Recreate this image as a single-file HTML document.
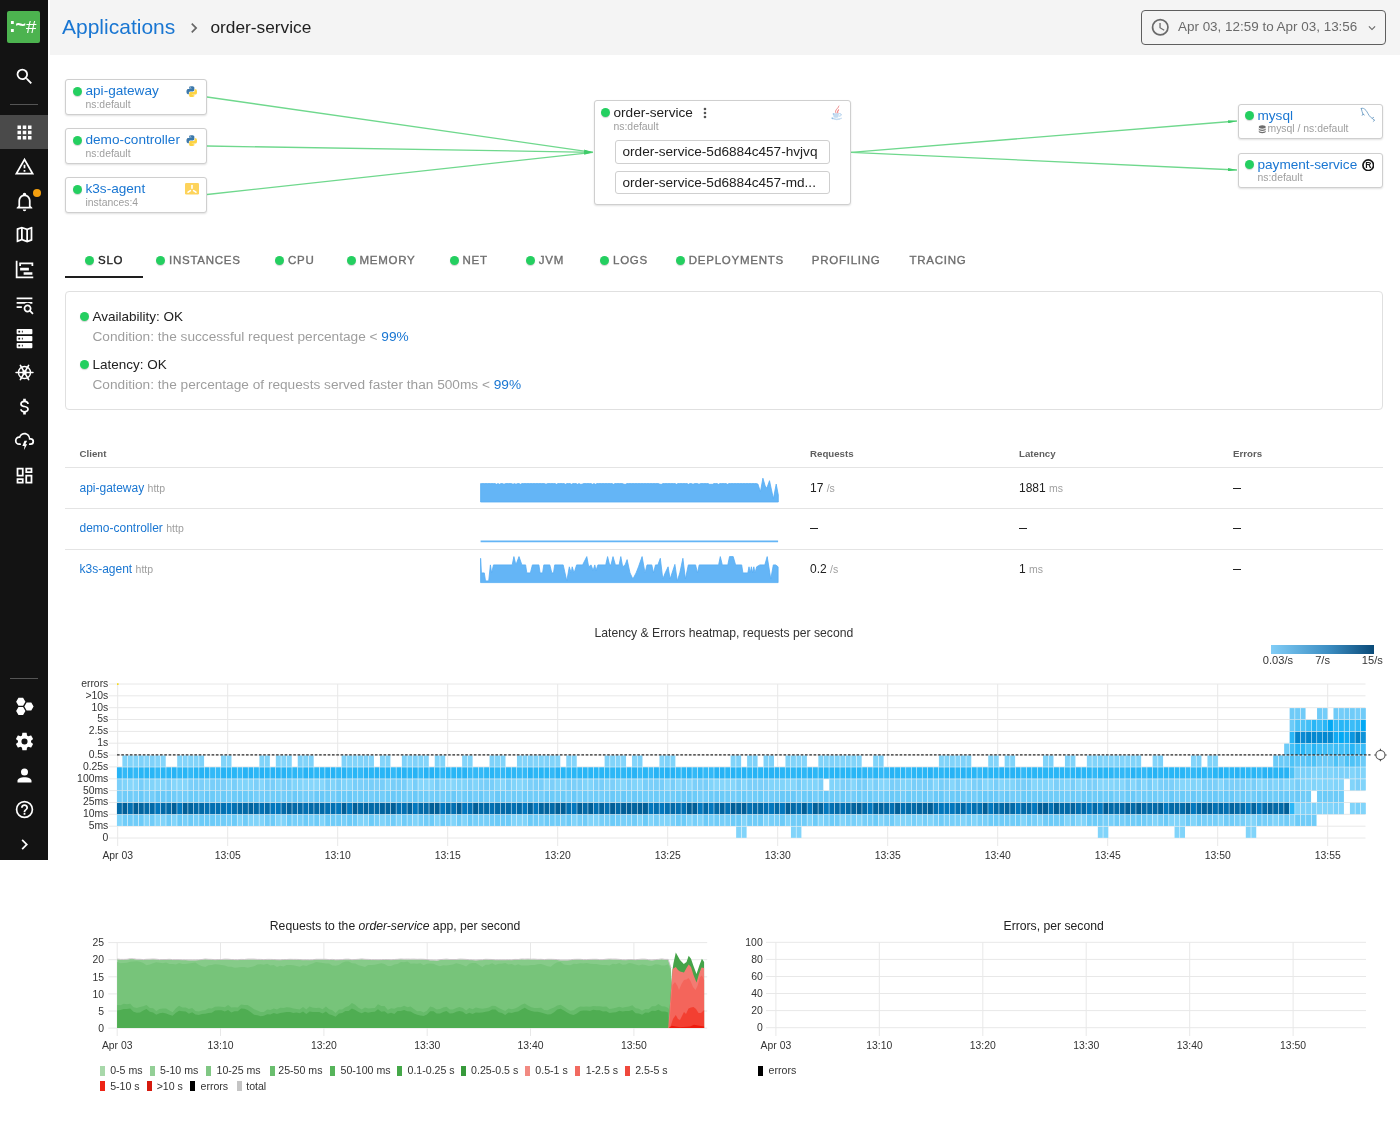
<!DOCTYPE html><html><head><meta charset="utf-8"><title>order-service</title><style>
*{margin:0;padding:0;box-sizing:border-box}
html,body{width:1400px;height:1128px;overflow:hidden;background:#fff}
body{position:relative;font-family:"Liberation Sans",Arial,sans-serif;color:#212121}
#wrap{position:absolute;left:0;top:0;width:1400px;height:1128px;will-change:transform;background:#fff}
.a{position:absolute;white-space:nowrap}
.ic{position:absolute;display:block}
#sb{position:absolute;left:0;top:0;width:48px;height:860px;background:#131313}
#hdr{position:absolute;left:50px;top:0;width:1350px;height:55px;background:#f4f4f4}
.node{position:absolute;background:#fff;border:1px solid #cfcfcf;border-radius:3px;box-shadow:0 1px 2px rgba(0,0,0,.12)}
.dot{position:absolute;width:9px;height:9px;border-radius:50%;background:#24cf60;box-shadow:0 1px 1px rgba(0,0,0,.18)}
.lnk{color:#1976d2}
.nm{font-size:13.6px;line-height:1}
.ns{font-size:10.4px;color:#9e9e9e;line-height:1}
.tab{font-size:11.5px;font-weight:400;letter-spacing:.75px;color:#666;line-height:1;-webkit-text-stroke:.35px currentColor}
.slo{font-size:13.5px;line-height:1}
.cond{color:#9e9e9e;font-size:13.66px}
.th{font-size:9.7px;font-weight:700;color:#5f5f5f;line-height:1}
.td{font-size:12px;line-height:1}
.dash{font-size:14.4px;margin-top:-2.2px}
.unit{font-size:10.5px;color:#9e9e9e}
.hl{position:absolute;height:1px;background:#e4e4e4}
.ax{font-size:10.4px;fill:#333;font-family:"Liberation Sans",Arial,sans-serif}
.lg{font-size:10.6px;color:#333;line-height:1}
.sq{position:absolute;width:5px;height:10px}
.hm rect{width:4.95px;height:11.25px}
</style></head><body><div id="wrap">
<div id="sb"></div>
<div class="a" style="left:7px;top:10.5px;width:32.5px;height:32.5px;background:#4cb34f;border-radius:2px"></div>
<svg class="ic" style="left:0;top:0;width:48px;height:48px" viewBox="0 0 48 48" font-family="Liberation Mono,monospace" fill="#fff" text-anchor="middle"><text x="12.3" y="32.4" font-size="19.5" font-weight="700">:</text><text x="20.6" y="31" font-size="18" font-weight="700">~</text><text x="31.3" y="32.6" font-size="19" font-weight="400">#</text></svg>
<div class="a" style="left:10px;top:104px;width:28px;height:1px;background:#555"></div>
<div class="a" style="left:0;top:115px;width:48px;height:34px;background:#4a4a4a"></div>
<div class="a" style="left:10px;top:678px;width:28px;height:1px;background:#555"></div>
<svg class="ic" style="left:13.50px;top:66.00px;width:21px;height:21px" viewBox="0 0 24 24"><path fill="#fff" d="M9.5,3A6.5,6.5 0 0,1 16,9.5C16,11.11 15.41,12.59 14.44,13.73L14.71,14H15.5L20.5,19L19,20.5L14,15.5V14.71L13.73,14.44C12.59,15.41 11.11,16 9.5,16A6.5,6.5 0 0,1 3,9.5A6.5,6.5 0 0,1 9.5,3M9.5,5C7,5 5,7 5,9.5C5,12 7,14 9.5,14C12,14 14,12 14,9.5C14,7 12,5 9.5,5Z"/></svg>
<svg class="ic" style="left:13.50px;top:121.50px;width:21px;height:21px" viewBox="0 0 24 24"><path fill="#fff" d="M16,20H20V16H16M16,14H20V10H16M10,8H14V4H10M16,8H20V4H16M10,14H14V10H10M4,14H8V10H4M4,20H8V16H4M10,20H14V16H10M4,8H8V4H4V8Z"/></svg>
<svg class="ic" style="left:13.50px;top:156.00px;width:21px;height:21px" viewBox="0 0 24 24"><path fill="#fff" d="M12,2L1,21H23M12,6L19.53,19H4.47M11,10V14H13V10M11,16V18H13V16"/></svg>
<svg class="ic" style="left:13.50px;top:191.00px;width:21px;height:21px" viewBox="0 0 24 24"><path fill="#fff" d="M10 21H14A2 2 0 0 1 12 23A2 2 0 0 1 10 21M21 19V20H3V19L5 17V11C5 7.9 7.03 5.17 10 4.29C10 4.19 10 4.1 10 4A2 2 0 0 1 12 2A2 2 0 0 1 14 4C14 4.1 14 4.19 14 4.29C16.97 5.17 19 7.9 19 11V17L21 19M17 11A5 5 0 0 0 12 6A5 5 0 0 0 7 11V18H17V11Z"/></svg>
<svg class="ic" style="left:13.50px;top:224.20px;width:21px;height:21px" viewBox="0 0 24 24"><path fill="#fff" d="M20.5,3L20.34,3.03L15,5.1L9,3L3.36,4.9C3.15,4.97 3,5.15 3,5.38V20.5A0.5,0.5 0 0,0 3.5,21L3.66,20.97L9,18.9L15,21L20.64,19.1C20.85,19.03 21,18.85 21,18.62V3.5A0.5,0.5 0 0,0 20.5,3M10,5.47L14,6.87V18.53L10,17.13V5.47M5,6.46L8,5.45V17.15L5,18.31V6.46M19,17.54L16,18.55V6.86L19,5.7V17.54Z"/></svg>
<svg class="ic" style="left:13.50px;top:258.90px;width:21px;height:21px" viewBox="0 0 24 24"><path fill="#fff" d="M2,2H4V20H22V22H2V2M7,10H17V13H7V10M11,15H21V18H11V15M6,4H22V8H20V6H8V8H6V4Z"/></svg>
<svg class="ic" style="left:13.50px;top:293.50px;width:21px;height:21px" viewBox="0 0 24 24"><path fill="#fff" d="M19.31 18.9L22.39 22L21 23.39L17.88 20.32C17.19 20.75 16.37 21 15.5 21C13 21 11 19 11 16.5C11 14 13 12 15.5 12C18 12 20 14 20 16.5C20 17.38 19.75 18.21 19.31 18.9M15.5 19C16.88 19 18 17.88 18 16.5C18 15.12 16.88 14 15.5 14C14.12 14 13 15.12 13 16.5C13 17.880 14.12 19 15.5 19M21 4V6H3V4H21M3 16V14H9V16H3M3 11V9H21V11H18.97C17.96 10.37 16.77 10 15.5 10C14.23 10 13.04 10.37 12.03 11H3Z"/></svg>
<svg class="ic" style="left:13.50px;top:328.00px;width:21px;height:21px" viewBox="0 0 24 24"><path fill="#fff" d="M4,1H20A1,1 0 0,1 21,2V6A1,1 0 0,1 20,7H4A1,1 0 0,1 3,6V2A1,1 0 0,1 4,1M4,9H20A1,1 0 0,1 21,10V14A1,1 0 0,1 20,15H4A1,1 0 0,1 3,14V10A1,1 0 0,1 4,9M4,17H20A1,1 0 0,1 21,18V22A1,1 0 0,1 20,23H4A1,1 0 0,1 3,22V18A1,1 0 0,1 4,17M9,5H10V3H9V5M9,13H10V11H9V13M9,21H10V19H9V21M5,3V5H7V3H5M5,11V13H7V11H5M5,19V21H7V19H5Z"/></svg>
<svg class="ic" style="left:13.6px;top:362.2px;width:21px;height:21px" viewBox="0 0 24 24" fill="none" stroke="#fff"><circle cx="12" cy="12" r="6.9" stroke-width="1.65"/><g stroke-width="1.9" stroke-linecap="round"><line x1="2.4" y1="12" x2="21.6" y2="12"/><line x1="7.3" y1="3.9" x2="16.7" y2="20.1"/><line x1="16.7" y1="3.9" x2="7.3" y2="20.1"/></g><circle cx="12" cy="12" r="2.7" fill="#fff" stroke="none"/></svg>
<svg class="ic" style="left:13.50px;top:396.30px;width:21px;height:21px" viewBox="0 0 24 24"><path fill="#fff" d="M7,15H9C9,16.08 10.37,17 12,17C13.63,17 15,16.08 15,15C15,13.9 13.96,13.5 11.76,12.97C9.64,12.44 7,11.78 7,9C7,7.21 8.47,5.690 10.5,5.18V3H13.5V5.18C15.53,5.69 17,7.21 17,9H15C15,7.92 13.63,7 12,7C10.37,7 9,7.92 9,9C9,10.1 10.04,10.5 12.24,11.03C14.36,11.56 17,12.22 17,15C17,16.79 15.53,18.31 13.5,18.82V21H10.5V18.82C8.47,18.31 7,16.79 7,15Z"/></svg>
<svg class="ic" style="left:13.50px;top:430.50px;width:21px;height:21px" viewBox="0 0 24 24"><path fill="#fff" d="M6,16A5,5 0 0,1 1,11A5,5 0 0,1 6,6C7,3.65 9.3,2 12,2C15.43,2 18.24,4.66 18.5,8.03L19,8A4,4 0 0,1 23,12A4,4 0 0,1 19,16H18A1,1 0 0,1 17,15A1,1 0 0,1 18,14H19A2,2 0 0,0 21,12A2,2 0 0,0 19,10H17V9A5,5 0 0,0 12,4C9.5,4 7.45,5.82 7.06,8.19C6.73,8.07 6.37,8 6,8A3,3 0 0,0 3,11A3,3 0 0,0 6,14H7A1,1 0 0,1 8,15A1,1 0 0,1 7,16H6M12,11H15L13,15H15L11.25,22L12,17H9.5L12,11Z"/></svg>
<svg class="ic" style="left:13.50px;top:465.10px;width:21px;height:21px" viewBox="0 0 24 24"><path fill="#fff" d="M19,5V7H15V5H19M9,5V11H5V5H9M19,13V19H15V13H19M9,17V19H5V17H9M21,3H13V9H21V3M11,3H3V13H11V3M21,11H13V21H21V11M11,15H3V21H11V15Z"/></svg>
<svg class="ic" style="left:13.50px;top:696.30px;width:21px;height:21px" viewBox="0 0 24 24"><path fill="#fff" d="M2.45,6.60 L5.10,2.01 L10.40,2.01 L13.05,6.60 L10.40,11.19 L5.10,11.19Z M11.80,11.90 L14.45,7.31 L19.75,7.31 L22.40,11.90 L19.75,16.49 L14.45,16.49Z M2.45,17.20 L5.10,12.61 L10.40,12.61 L13.05,17.20 L10.40,21.79 L5.10,21.79Z"/></svg>
<svg class="ic" style="left:13.50px;top:730.50px;width:21px;height:21px" viewBox="0 0 24 24"><path fill="#fff" d="M12,15.5A3.5,3.5 0 0,1 8.5,12A3.5,3.5 0 0,1 12,8.5A3.5,3.5 0 0,1 15.5,12A3.5,3.5 0 0,1 12,15.5M19.43,12.97C19.47,12.65 19.5,12.33 19.5,12C19.5,11.67 19.47,11.34 19.43,11L21.54,9.37C21.73,9.22 21.78,8.95 21.66,8.73L19.66,5.27C19.54,5.05 19.27,4.96 19.050,5.05L16.56,6.05C16.04,5.66 15.5,5.32 14.87,5.07L14.5,2.42C14.46,2.18 14.25,2 14,2H10C9.75,2 9.54,2.18 9.5,2.42L9.13,5.07C8.5,5.32 7.96,5.66 7.44,6.05L4.95,5.05C4.73,4.96 4.46,5.05 4.34,5.27L2.34,8.73C2.21,8.95 2.27,9.22 2.46,9.37L4.57,11C4.53,11.34 4.5,11.67 4.5,12C4.5,12.33 4.53,12.65 4.57,12.97L2.46,14.63C2.27,14.78 2.21,15.05 2.34,15.27L4.34,18.73C4.46,18.95 4.73,19.03 4.95,18.95L7.44,17.94C7.96,18.34 8.5,18.68 9.13,18.93L9.5,21.58C9.54,21.82 9.75,22 10,22H14C14.25,22 14.46,21.82 14.5,21.58L14.87,18.93C15.5,18.67 16.04,18.34 16.56,17.94L19.05,18.95C19.27,19.03 19.54,18.95 19.66,18.73L21.66,15.27C21.78,15.05 21.73,14.78 21.54,14.63L19.43,12.97Z"/></svg>
<svg class="ic" style="left:13.50px;top:764.90px;width:21px;height:21px" viewBox="0 0 24 24"><path fill="#fff" d="M12,4A4,4 0 0,1 16,8A4,4 0 0,1 12,12A4,4 0 0,1 8,8A4,4 0 0,1 12,4M12,14C16.42,14 20,15.79 20,18V20H4V18C4,15.79 7.58,14 12,14Z"/></svg>
<svg class="ic" style="left:13.50px;top:799.30px;width:21px;height:21px" viewBox="0 0 24 24"><path fill="#fff" d="M11,18H13V16H11V18M12,2A10,10 0 0,0 2,12A10,10 0 0,0 12,22A10,10 0 0,0 22,12A10,10 0 0,0 12,2M12,20C7.59,20 4,16.41 4,12C4,7.59 7.59,4 12,4C16.41,4 20,7.59 20,12C20,16.41 16.41,20 12,20M12,6A4,4 0 0,0 8,10H10A2,2 0 0,1 12,8A2,2 0 0,1 14,10C14,12 11,11.75 11,15H13C13,12.75 16,12.5 16,10A4,4 0 0,0 12,6Z"/></svg>
<svg class="ic" style="left:13.50px;top:833.50px;width:21px;height:21px" viewBox="0 0 24 24"><path fill="#fff" d="M8.59,16.58L13.17,12L8.59,7.41L10,6L16,12L10,18L8.59,16.58Z"/></svg>
<div class="a" style="left:32.5px;top:189px;width:8px;height:8px;border-radius:50%;background:#f5a00f"></div>
<div id="hdr"></div>
<div class="a lnk" style="left:62px;top:15px;font-size:21px;line-height:24px">Applications</div>
<svg class="ic" style="left:183.50px;top:17.50px;width:20px;height:20px" viewBox="0 0 24 24"><path fill="#666" d="M8.59,16.58L13.17,12L8.59,7.41L10,6L16,12L10,18L8.59,16.58Z"/></svg>
<div class="a" style="left:210.5px;top:17px;font-size:17.3px;line-height:20px;color:#212121">order-service</div>
<div class="a" style="left:1141px;top:10px;width:245px;height:35px;border:1.5px solid #5f5f5f;border-radius:4px"></div>
<svg class="ic" style="left:1149.55px;top:17.35px;width:20.5px;height:20.5px" viewBox="0 0 24 24"><path fill="#6a6a6a" d="M12,20A8,8 0 0,0 20,12A8,8 0 0,0 12,4A8,8 0 0,0 4,12A8,8 0 0,0 12,20M12,2A10,10 0 0,1 22,12A10,10 0 0,1 12,22C6.47,22 2,17.5 2,12A10,10 0 0,1 12,2M12.5,7V12.25L17,14.92L16.25,16.15L11,13V7H12.5Z"/></svg>
<div class="a" style="left:1178px;top:19.3px;font-size:13.45px;line-height:16px;color:#6a6a6a">Apr 03, 12:59 to Apr 03, 13:56</div>
<svg class="ic" style="left:1364.50px;top:20.50px;width:14px;height:14px" viewBox="0 0 24 24"><path fill="#6a6a6a" d="M7.41,8.58L12,13.17L16.59,8.58L18,10L12,16L6,10L7.41,8.58Z"/></svg>
<svg class="a" style="left:0;top:0" width="1400" height="230" viewBox="0 0 1400 230"><defs><marker id="ar" viewBox="0 0 10 10" refX="10" refY="5" markerWidth="9" markerHeight="3.2" orient="auto" markerUnits="userSpaceOnUse" preserveAspectRatio="none"><path d="M0,0L10,5L0,10z" fill="#3fcb69"/></marker></defs><g stroke="#6fd88d" stroke-width="1.3" fill="none"><line x1="207" y1="97" x2="593" y2="152.3" marker-end="url(#ar)"/><line x1="207" y1="146" x2="593" y2="152.3" marker-end="url(#ar)"/><line x1="207" y1="194.5" x2="593" y2="152.3" marker-end="url(#ar)"/><line x1="851" y1="152.3" x2="1237" y2="121" marker-end="url(#ar)"/><line x1="851" y1="152.3" x2="1237" y2="170" marker-end="url(#ar)"/></g></svg>

<div class="node" style="left:65px;top:79px;width:142px;height:35.5px"></div>
<div class="dot" style="left:73px;top:87px"></div>
<div class="a nm lnk" style="left:85.5px;top:84px">api-gateway</div>
<div class="a ns" style="left:85.5px;top:99.8px">ns:default</div>
<div class="node" style="left:65px;top:128px;width:142px;height:35.5px"></div>
<div class="dot" style="left:73px;top:136px"></div>
<div class="a nm lnk" style="left:85.5px;top:133px">demo-controller</div>
<div class="a ns" style="left:85.5px;top:148.8px">ns:default</div>
<div class="node" style="left:65px;top:177px;width:142px;height:35.5px"></div>
<div class="dot" style="left:73px;top:185px"></div>
<div class="a nm lnk" style="left:85.5px;top:182px">k3s-agent</div>
<div class="a ns" style="left:85.5px;top:197.8px">instances:4</div>
<svg class="ic" style="left:186.2px;top:85.5px;width:11.5px;height:11.5px" viewBox="0 0 16 16"><path fill="#3c78aa" d="M7.9 0.5C4.2 0.5 4.4 2.1 4.4 2.1V3.8H8V4.3H3C3 4.3 0.6 4 0.6 7.8S2.7 11.4 2.7 11.4H4V9.6S3.9 7.5 6 7.5H9.6S11.6 7.5 11.6 5.6V2.4S11.9 0.5 7.9 0.5ZM5.9 1.6A.65.65 0 1 1 5.9 2.9A.65.65 0 1 1 5.9 1.6Z"/><path fill="#fdd343" d="M8.1 15.5C11.8 15.5 11.6 13.9 11.6 13.9V12.2H8V11.7H13C13 11.7 15.4 12 15.4 8.2S13.3 4.6 13.3 4.6H12V6.4S12.1 8.5 10 8.5H6.4S4.4 8.5 4.4 10.4V13.6S4.1 15.5 8.1 15.5ZM10.1 14.4A.65.65 0 1 1 10.1 13.1A.65.65 0 1 1 10.1 14.4Z"/></svg>
<svg class="ic" style="left:186.2px;top:134.5px;width:11.5px;height:11.5px" viewBox="0 0 16 16"><path fill="#3c78aa" d="M7.9 0.5C4.2 0.5 4.4 2.1 4.4 2.1V3.8H8V4.3H3C3 4.3 0.6 4 0.6 7.8S2.7 11.4 2.7 11.4H4V9.6S3.9 7.5 6 7.5H9.6S11.6 7.5 11.6 5.6V2.4S11.9 0.5 7.9 0.5ZM5.9 1.6A.65.65 0 1 1 5.9 2.9A.65.65 0 1 1 5.9 1.6Z"/><path fill="#fdd343" d="M8.1 15.5C11.8 15.5 11.6 13.9 11.6 13.9V12.2H8V11.7H13C13 11.7 15.4 12 15.4 8.2S13.3 4.6 13.3 4.6H12V6.4S12.1 8.5 10 8.5H6.4S4.4 8.5 4.4 10.4V13.6S4.1 15.5 8.1 15.5ZM10.1 14.4A.65.65 0 1 1 10.1 13.1A.65.65 0 1 1 10.1 14.4Z"/></svg>
<svg class="ic" style="left:185px;top:183px;width:14px;height:11.5px" viewBox="0 0 14 11.5"><rect width="14" height="11.5" rx="1.2" fill="#fdd35b"/><g stroke="#fff" stroke-width="1.6" stroke-linecap="round"><line x1="7" y1="2.6" x2="7" y2="5.3"/><line x1="5.4" y1="7.6" x2="3.1" y2="9.2"/><line x1="8.6" y1="7.6" x2="10.9" y2="9.2"/></g></svg>
<div class="node" style="left:594px;top:100px;width:257px;height:104.5px"></div>
<div class="dot" style="left:601px;top:107.5px"></div>
<div class="a nm" style="left:613.5px;top:105.5px;color:#212121">order-service</div>
<svg class="ic" style="left:696.50px;top:104.50px;width:16px;height:16px" viewBox="0 0 24 24"><path fill="#555" d="M12,16A2,2 0 0,1 14,18A2,2 0 0,1 12,20A2,2 0 0,1 10,18A2,2 0 0,1 12,16M12,10A2,2 0 0,1 14,12A2,2 0 0,1 12,14A2,2 0 0,1 10,12A2,2 0 0,1 12,10M12,4A2,2 0 0,1 14,6A2,2 0 0,1 12,8A2,2 0 0,1 10,6A2,2 0 0,1 12,4Z"/></svg>
<div class="a ns" style="left:613.5px;top:122px">ns:default</div>
<svg class="ic" style="left:828px;top:104px;width:16px;height:18px" viewBox="828 104 16 18"><path d="M836.2,113.2 C834.6,111.4 836.2,109.6 837.6,108.2 C838.6,107.2 838.4,106.4 838.8,106" stroke="#ef7f7f" stroke-width="1" fill="none" stroke-linecap="round"/><path d="M837.8,113.2 C837.3,111.8 837.5,110.8 838.6,109.8" stroke="#ef7f7f" stroke-width="1.1" fill="none" stroke-linecap="round"/><path d="M832.9,113.3 H839.1 L838.4,117.2 Q836,118.5 833.6,117.2 Z" fill="#c4dbf0"/><path d="M839.2,113.6 Q841.8,113.6 841.3,115.2 Q840.6,116 839,116.2" stroke="#a8c9e9" stroke-width="0.9" fill="none"/><path d="M831.6,118 Q836.6,121.3 841.8,118.2 Q836.6,120 831.6,118 Z" fill="#b6d2ec" stroke="#c4dbf0" stroke-width="0.8"/><circle cx="832.5" cy="118.3" r="0.9" fill="#8fbbe3"/><circle cx="833.4" cy="114" r="0.8" fill="#98c0e6"/></svg>
<div class="a" style="left:615px;top:139.5px;width:214.5px;height:24px;border:1px solid #cfcfcf;border-radius:3px"></div>
<div class="a" style="left:615px;top:170.5px;width:214.5px;height:23.5px;border:1px solid #cfcfcf;border-radius:3px"></div>
<div class="a" style="left:622.5px;top:144.5px;font-size:13.6px;line-height:14px">order-service-5d6884c457-hvjvq</div>
<div class="a" style="left:622.5px;top:175.5px;font-size:13.6px;line-height:14px">order-service-5d6884c457-md...</div>
<div class="node" style="left:1238px;top:104px;width:144.5px;height:35px"></div>
<div class="dot" style="left:1244.5px;top:110.8px"></div>
<div class="a nm lnk" style="left:1257.5px;top:108.5px">mysql</div>
<svg class="ic" style="left:1257.35px;top:124.35px;width:10.5px;height:10.5px" viewBox="0 0 24 24"><path fill="#6d6d6d" d="M12,3C7.58,3 4,4.79 4,7C4,9.21 7.58,11 12,11C16.42,11 20,9.21 20,7C20,4.79 16.42,3 12,3M4,9V12C4,14.21 7.58,16 12,16C16.42,16 20,14.21 20,12V9C20,11.21 16.42,13 12,13C7.58,13 4,11.21 4,9M4,14V17C4,19.21 7.58,21 12,21C16.42,21 20,19.21 20,17V14C20,16.21 16.42,18 12,18C7.58,18 4,16.21 4,14Z"/></svg>
<div class="a ns" style="left:1267.5px;top:124px">mysql / ns:default</div>
<svg class="ic" style="left:1358px;top:106px;width:20px;height:18px" viewBox="0 0 20 18"><path d="M3.2,2.4 C4.5,1.6 6.5,2.6 8,4.4 C9.6,6.3 10.3,9 12.6,11.2 C14,12.5 15.5,13 16.5,14.2 M3.2,2.4 C3.6,4.5 4.4,6.6 5,8.2 M5,8.2 L4.2,9.4 M5,8.2 L6.3,9 M16.5,14.2 L15.2,15.4 M14.3,12.2 L15.6,11.4" stroke="#6a9bc3" stroke-width="0.85" fill="none" stroke-linecap="round"/></svg>
<div class="node" style="left:1238px;top:153px;width:144.5px;height:34.5px"></div>
<div class="dot" style="left:1244.5px;top:160px"></div>
<div class="a nm lnk" style="left:1257.5px;top:158px">payment-service</div>
<div class="a ns" style="left:1257.5px;top:173px">ns:default</div>
<svg class="ic" style="left:1361.5px;top:158.5px;width:12.5px;height:12.5px" viewBox="0 0 12.5 12.5"><circle cx="6.25" cy="6.25" r="5.3" fill="#fff" stroke="#161616" stroke-width="1.7"/><text x="6.3" y="9.4" font-size="8.6" font-weight="700" text-anchor="middle" fill="#161616" font-family="Liberation Sans,Arial,sans-serif">R</text></svg>
<div class="dot" style="left:85.2px;top:255.6px"></div>
<div class="a tab" style="left:98px;top:254.7px;color:#1e1e1e">SLO</div>
<div class="dot" style="left:156.2px;top:255.6px"></div>
<div class="a tab" style="left:169px;top:254.7px;color:#6e6e6e">INSTANCES</div>
<div class="dot" style="left:275.2px;top:255.6px"></div>
<div class="a tab" style="left:288px;top:254.7px;color:#6e6e6e">CPU</div>
<div class="dot" style="left:347.1px;top:255.6px"></div>
<div class="a tab" style="left:359.5px;top:254.7px;color:#6e6e6e">MEMORY</div>
<div class="dot" style="left:449.9px;top:255.6px"></div>
<div class="a tab" style="left:462.5px;top:254.7px;color:#6e6e6e">NET</div>
<div class="dot" style="left:525.6px;top:255.6px"></div>
<div class="a tab" style="left:538.8px;top:254.7px;color:#6e6e6e">JVM</div>
<div class="dot" style="left:599.9px;top:255.6px"></div>
<div class="a tab" style="left:613px;top:254.7px;color:#6e6e6e">LOGS</div>
<div class="dot" style="left:675.6px;top:255.6px"></div>
<div class="a tab" style="left:688.8px;top:254.7px;color:#6e6e6e">DEPLOYMENTS</div>
<div class="a tab" style="left:811.8px;top:254.7px;color:#6e6e6e">PROFILING</div>
<div class="a tab" style="left:909.5px;top:254.7px;color:#6e6e6e">TRACING</div>
<div class="a" style="left:65px;top:275.5px;width:77.5px;height:2px;background:#1e1e1e"></div>
<div class="a" style="left:65px;top:291px;width:1318px;height:119px;border:1px solid #e0e0e0;border-radius:4px"></div>
<div class="dot" style="left:79.8px;top:312px"></div>
<div class="a slo" style="left:92.5px;top:309.5px">Availability: OK</div>
<div class="a slo cond" style="left:92.5px;top:329.5px">Condition: the successful request percentage &lt; <span class="lnk">99%</span></div>
<div class="dot" style="left:79.8px;top:360.4px"></div>
<div class="a slo" style="left:92.5px;top:357.8px">Latency: OK</div>
<div class="a slo cond" style="left:92.5px;top:378px">Condition: the percentage of requests served faster than 500ms &lt; <span class="lnk">99%</span></div>
<div class="a th" style="left:79.5px;top:449px">Client</div>
<div class="a th" style="left:810px;top:449px">Requests</div>
<div class="a th" style="left:1019px;top:449px">Latency</div>
<div class="a th" style="left:1233px;top:449px">Errors</div>
<div class="hl" style="left:65px;top:467px;width:1318px"></div>
<div class="hl" style="left:65px;top:508px;width:1318px"></div>
<div class="hl" style="left:65px;top:548.5px;width:1318px"></div>
<div class="a td" style="left:79.5px;top:481.7px"><span class="lnk">api-gateway</span> <span class="unit">http</span></div>
<div class="a td" style="left:810px;top:481.7px">17 <span class="unit">/s</span></div>
<div class="a td" style="left:1019px;top:481.7px">1881 <span class="unit">ms</span></div>
<div class="a td dash" style="left:1233px;top:481.7px">–</div>
<div class="a td" style="left:79.5px;top:522.3px"><span class="lnk">demo-controller</span> <span class="unit">http</span></div>
<div class="a td dash" style="left:810px;top:522.3px">–</div>
<div class="a td dash" style="left:1019px;top:522.3px">–</div>
<div class="a td dash" style="left:1233px;top:522.3px">–</div>
<div class="a td" style="left:79.5px;top:562.8px"><span class="lnk">k3s-agent</span> <span class="unit">http</span></div>
<div class="a td" style="left:810px;top:562.8px">0.2 <span class="unit">/s</span></div>
<div class="a td" style="left:1019px;top:562.8px">1 <span class="unit">ms</span></div>
<div class="a td dash" style="left:1233px;top:562.8px">–</div><svg class="a" style="left:0;top:460px" width="800" height="130" viewBox="0 460 800 130"><path fill="#64b5f6" stroke="#55acf4" stroke-width="0.8" stroke-linejoin="round" d="M480.6,502.0 L480.6,483.6 L481.5,483.6 L483.0,483.6 L484.5,483.6 L486.0,483.6 L487.5,483.6 L489.0,483.6 L490.5,483.6 L492.0,483.6 L493.5,483.6 L495.0,483.6 L496.5,484.3 L498.0,483.6 L499.5,484.3 L501.0,483.6 L502.5,483.6 L504.0,484.3 L505.5,483.6 L507.0,483.6 L508.5,483.6 L510.0,483.6 L511.5,483.6 L513.0,484.3 L514.5,483.6 L516.0,484.3 L517.5,483.6 L519.0,483.6 L520.5,484.3 L522.0,483.6 L523.5,483.6 L525.0,483.6 L526.5,483.6 L528.0,483.6 L529.5,483.6 L531.0,483.6 L532.5,483.6 L534.0,483.6 L535.5,483.6 L537.0,483.6 L538.5,483.6 L540.0,483.6 L541.5,483.6 L543.0,483.6 L544.5,483.6 L546.0,484.3 L547.5,483.6 L549.0,483.6 L550.5,483.6 L552.0,483.6 L553.5,483.6 L555.0,483.6 L556.5,484.3 L558.0,483.6 L559.5,483.6 L561.0,483.6 L562.5,483.6 L564.0,483.6 L565.5,484.3 L567.0,483.6 L568.5,483.6 L570.0,483.6 L571.5,484.3 L573.0,483.6 L574.5,483.6 L576.0,483.6 L577.5,484.3 L579.0,483.6 L580.5,484.3 L582.0,484.3 L583.5,483.6 L585.0,483.6 L586.5,483.6 L588.0,483.6 L589.5,483.6 L591.0,483.6 L592.5,484.3 L594.0,483.6 L595.5,484.3 L597.0,483.6 L598.5,483.6 L600.0,483.6 L601.5,483.6 L603.0,483.6 L604.5,483.6 L606.0,483.6 L607.5,483.6 L609.0,483.6 L610.5,483.6 L612.0,483.6 L613.5,484.3 L615.0,483.6 L616.5,483.6 L618.0,483.6 L619.5,483.6 L621.0,483.6 L622.5,483.6 L624.0,484.3 L625.5,484.3 L627.0,483.6 L628.5,483.6 L630.0,483.6 L631.5,483.6 L633.0,483.6 L634.5,483.6 L636.0,483.6 L637.5,483.6 L639.0,483.6 L640.5,483.6 L642.0,483.6 L643.5,483.6 L645.0,483.6 L646.5,483.6 L648.0,483.6 L649.5,483.6 L651.0,483.6 L652.5,483.6 L654.0,483.6 L655.5,483.6 L657.0,483.6 L658.5,483.6 L660.0,484.3 L661.5,484.3 L663.0,483.6 L664.5,483.6 L666.0,483.6 L667.5,483.6 L669.0,483.6 L670.5,483.6 L672.0,483.6 L673.5,483.6 L675.0,483.6 L676.5,484.3 L678.0,483.6 L679.5,483.6 L681.0,483.6 L682.5,483.6 L684.0,483.6 L685.5,483.6 L687.0,483.6 L688.5,484.3 L690.0,483.6 L691.5,483.6 L693.0,484.3 L694.5,483.6 L696.0,483.6 L697.5,483.6 L699.0,484.3 L700.5,483.6 L702.0,483.6 L703.5,483.6 L705.0,483.6 L706.5,483.6 L708.0,483.6 L709.5,484.3 L711.0,484.3 L712.5,484.3 L714.0,483.6 L715.5,483.6 L717.0,483.6 L718.5,484.3 L720.0,483.6 L721.5,483.6 L723.0,483.6 L724.5,483.6 L726.0,483.6 L727.5,484.3 L729.0,483.6 L730.5,483.6 L732.0,483.6 L733.5,483.6 L735.0,483.6 L736.5,483.6 L738.0,483.6 L739.5,483.6 L741.0,483.6 L742.5,483.6 L744.0,483.6 L745.5,483.6 L747.0,483.6 L748.5,483.6 L750.0,483.6 L751.5,483.6 L753.0,483.6 L754.5,483.6 L756.0,483.6 L757.9,484.0 L760.4,491.8 L762.9,478.2 L765.2,486.0 L766.8,488.2 L769.5,480.7 L773.4,498.7 L776.2,484.1 L778.3,495.0 L778.3,502.0 Z"/><line x1="480.6" y1="541.3" x2="778.1" y2="541.3" stroke="#64b5f6" stroke-width="1.8"/><path fill="#64b5f6" stroke="#55acf4" stroke-width="0.8" stroke-linejoin="round" d="M480.6,582.6 L480.6,558.3 L481.4,572.9 L484.3,572.9 L485.5,580.9 L488.7,580.9 L490.4,564.9 L491.6,572.9 L493.5,564.9 L512.2,564.9 L513.9,556.6 L515.9,564.9 L519.0,556.6 L521.9,564.9 L525.6,564.9 L526.8,572.9 L530.4,572.9 L532.4,564.9 L538.9,564.9 L540.1,572.9 L542.6,572.9 L543.8,564.9 L549.8,564.9 L551.8,572.9 L553.5,572.9 L554.7,564.9 L563.2,564.9 L566.8,580.9 L569.3,566.8 L571.2,572.9 L572.2,566.8 L574.1,572.9 L576.6,564.9 L582.6,564.9 L586.8,556.6 L588.7,566.8 L591.1,564.9 L593.1,570.5 L594.8,564.9 L596.0,570.5 L597.9,564.9 L605.7,564.9 L607.6,556.6 L609.6,564.9 L611.0,564.9 L613.0,556.6 L615.4,564.9 L619.1,564.9 L620.8,556.6 L622.7,566.8 L625.1,564.9 L627.1,559.6 L630.0,572.9 L632.9,579.0 L636.1,572.9 L638.5,566.8 L642.1,556.6 L645.0,572.9 L647.0,564.9 L651.8,564.9 L653.5,572.9 L655.5,564.9 L657.9,564.9 L660.3,558.3 L662.8,579.0 L665.2,572.9 L668.1,566.8 L670.1,579.0 L674.9,564.4 L677.3,580.9 L679.8,572.9 L682.9,558.3 L685.4,579.0 L688.3,564.9 L695.6,564.9 L697.5,572.9 L699.2,564.9 L718.6,564.9 L720.3,556.6 L722.3,564.9 L727.8,564.9 L729.5,556.6 L733.2,556.6 L735.6,564.9 L741.7,564.9 L742.9,572.9 L747.8,572.9 L749.0,566.8 L750.2,572.9 L751.4,566.8 L752.6,572.9 L753.8,566.8 L755.0,572.9 L756.7,566.8 L759.9,564.9 L764.8,564.9 L767.2,556.6 L770.8,579.0 L773.3,564.9 L775.7,564.9 L778.1,566.8 L778.1,582.6 Z"/></svg>
<div class="a" style="left:594.5px;top:625.5px;font-size:12.2px;line-height:14px;color:#333">Latency &amp; Errors heatmap, requests per second</div>
<div class="a" style="left:1271px;top:645px;width:103px;height:9px;background:linear-gradient(90deg,#81cdf7,#3d8fc4 55%,#0a4a78)"></div>
<div class="a lg" style="left:1262.8px;top:655.3px;font-size:11.1px">0.03/s</div>
<div class="a lg" style="left:1315.2px;top:655.3px;font-size:11.1px">7/s</div>
<div class="a lg" style="left:1361.8px;top:655.3px;font-size:11.1px">15/s</div>
<svg class="a" style="left:0;top:670px" width="1400" height="200" viewBox="0 670 1400 200"><g stroke="#e8e8e8" stroke-width="1"><line x1="109" y1="684.0" x2="1365.5" y2="684.0"/><line x1="109" y1="695.8" x2="1365.5" y2="695.8"/><line x1="109" y1="707.7" x2="1365.5" y2="707.7"/><line x1="109" y1="719.5" x2="1365.5" y2="719.5"/><line x1="109" y1="731.4" x2="1365.5" y2="731.4"/><line x1="109" y1="743.2" x2="1365.5" y2="743.2"/><line x1="109" y1="755.1" x2="1365.5" y2="755.1"/><line x1="109" y1="766.9" x2="1365.5" y2="766.9"/><line x1="109" y1="778.8" x2="1365.5" y2="778.8"/><line x1="109" y1="790.6" x2="1365.5" y2="790.6"/><line x1="109" y1="802.5" x2="1365.5" y2="802.5"/><line x1="109" y1="814.3" x2="1365.5" y2="814.3"/><line x1="109" y1="826.2" x2="1365.5" y2="826.2"/><line x1="109" y1="838.0" x2="1365.5" y2="838.0"/><line x1="117.7" y1="684" x2="117.7" y2="846"/><line x1="227.7" y1="684" x2="227.7" y2="846"/><line x1="337.7" y1="684" x2="337.7" y2="846"/><line x1="447.7" y1="684" x2="447.7" y2="846"/><line x1="557.7" y1="684" x2="557.7" y2="846"/><line x1="667.7" y1="684" x2="667.7" y2="846"/><line x1="777.7" y1="684" x2="777.7" y2="846"/><line x1="887.7" y1="684" x2="887.7" y2="846"/><line x1="997.7" y1="684" x2="997.7" y2="846"/><line x1="1107.7" y1="684" x2="1107.7" y2="846"/><line x1="1217.7" y1="684" x2="1217.7" y2="846"/><line x1="1327.7" y1="684" x2="1327.7" y2="846"/></g><g class="ax" text-anchor="end"><text x="108.3" y="686.9">errors</text><text x="108.3" y="698.7">&gt;10s</text><text x="108.3" y="710.6">10s</text><text x="108.3" y="722.4">5s</text><text x="108.3" y="734.3">2.5s</text><text x="108.3" y="746.1">1s</text><text x="108.3" y="758.0">0.5s</text><text x="108.3" y="769.8">0.25s</text><text x="108.3" y="781.7">100ms</text><text x="108.3" y="793.5">50ms</text><text x="108.3" y="805.4">25ms</text><text x="108.3" y="817.2">10ms</text><text x="108.3" y="829.1">5ms</text><text x="108.3" y="840.9">0</text></g><g class="ax" text-anchor="middle"><text x="117.7" y="858.7">Apr 03</text><text x="227.7" y="858.7">13:05</text><text x="337.7" y="858.7">13:10</text><text x="447.7" y="858.7">13:15</text><text x="557.7" y="858.7">13:20</text><text x="667.7" y="858.7">13:25</text><text x="777.7" y="858.7">13:30</text><text x="887.7" y="858.7">13:35</text><text x="997.7" y="858.7">13:40</text><text x="1107.7" y="858.7">13:45</text><text x="1217.7" y="858.7">13:50</text><text x="1327.7" y="858.7">13:55</text></g><g class="hm"><g fill="#81d4fa"><rect x="122.40" y="755.5"/><rect x="127.88" y="755.5"/><rect x="133.36" y="755.5"/><rect x="188.16" y="755.5"/><rect x="193.64" y="755.5"/><rect x="221.04" y="755.5"/><rect x="259.40" y="755.5"/><rect x="264.88" y="755.5"/><rect x="275.84" y="755.5"/><rect x="303.24" y="755.5"/><rect x="347.08" y="755.5"/><rect x="352.56" y="755.5"/><rect x="358.04" y="755.5"/><rect x="385.44" y="755.5"/><rect x="418.32" y="755.5"/><rect x="434.76" y="755.5"/><rect x="440.24" y="755.5"/><rect x="467.64" y="755.5"/><rect x="495.04" y="755.5"/><rect x="500.52" y="755.5"/><rect x="516.96" y="755.5"/><rect x="533.40" y="755.5"/><rect x="538.88" y="755.5"/><rect x="549.84" y="755.5"/><rect x="555.32" y="755.5"/><rect x="610.12" y="755.5"/><rect x="670.40" y="755.5"/><rect x="730.68" y="755.5"/><rect x="747.12" y="755.5"/><rect x="785.48" y="755.5"/><rect x="790.96" y="755.5"/><rect x="818.36" y="755.5"/><rect x="823.84" y="755.5"/><rect x="834.80" y="755.5"/><rect x="840.28" y="755.5"/><rect x="845.76" y="755.5"/><rect x="851.24" y="755.5"/><rect x="873.16" y="755.5"/><rect x="938.92" y="755.5"/><rect x="944.40" y="755.5"/><rect x="949.88" y="755.5"/><rect x="966.32" y="755.5"/><rect x="988.24" y="755.5"/><rect x="1004.68" y="755.5"/><rect x="1010.16" y="755.5"/><rect x="1043.04" y="755.5"/><rect x="1070.44" y="755.5"/><rect x="1092.36" y="755.5"/><rect x="1097.84" y="755.5"/><rect x="1114.28" y="755.5"/><rect x="1130.72" y="755.5"/><rect x="1136.20" y="755.5"/><rect x="1207.44" y="755.5"/><rect x="1212.92" y="755.5"/><rect x="1311.56" y="767.3"/><rect x="1317.04" y="767.3"/><rect x="1328.00" y="767.3"/><rect x="1349.92" y="767.3"/><rect x="1360.88" y="767.3"/><rect x="122.40" y="779.2"/><rect x="144.32" y="779.2"/><rect x="149.80" y="779.2"/><rect x="160.76" y="779.2"/><rect x="204.60" y="779.2"/><rect x="226.52" y="779.2"/><rect x="237.48" y="779.2"/><rect x="242.96" y="779.2"/><rect x="248.44" y="779.2"/><rect x="275.84" y="779.2"/><rect x="292.28" y="779.2"/><rect x="297.76" y="779.2"/><rect x="330.64" y="779.2"/><rect x="341.60" y="779.2"/><rect x="347.08" y="779.2"/><rect x="385.44" y="779.2"/><rect x="456.68" y="779.2"/><rect x="462.16" y="779.2"/><rect x="473.12" y="779.2"/><rect x="495.04" y="779.2"/><rect x="511.48" y="779.2"/><rect x="522.44" y="779.2"/><rect x="555.32" y="779.2"/><rect x="560.80" y="779.2"/><rect x="582.72" y="779.2"/><rect x="588.20" y="779.2"/><rect x="604.64" y="779.2"/><rect x="615.60" y="779.2"/><rect x="632.04" y="779.2"/><rect x="708.76" y="779.2"/><rect x="769.04" y="779.2"/><rect x="774.52" y="779.2"/><rect x="780.00" y="779.2"/><rect x="801.92" y="779.2"/><rect x="807.40" y="779.2"/><rect x="812.88" y="779.2"/><rect x="829.32" y="779.2"/><rect x="834.80" y="779.2"/><rect x="900.56" y="779.2"/><rect x="906.04" y="779.2"/><rect x="988.24" y="779.2"/><rect x="1004.68" y="779.2"/><rect x="1010.16" y="779.2"/><rect x="1037.56" y="779.2"/><rect x="1043.04" y="779.2"/><rect x="1059.48" y="779.2"/><rect x="1114.28" y="779.2"/><rect x="1174.56" y="779.2"/><rect x="1191.00" y="779.2"/><rect x="1245.80" y="779.2"/><rect x="1262.24" y="779.2"/><rect x="1273.20" y="779.2"/><rect x="1289.64" y="779.2"/><rect x="1300.60" y="779.2"/><rect x="1311.56" y="779.2"/><rect x="1322.52" y="779.2"/><rect x="1333.48" y="779.2"/><rect x="1349.92" y="779.2"/><rect x="1360.88" y="779.2"/><rect x="1295.12" y="802.9"/><rect x="1317.04" y="802.9"/><rect x="1322.52" y="802.9"/><rect x="1328.00" y="802.9"/><rect x="1338.96" y="802.9"/><rect x="1349.92" y="802.9"/><rect x="1360.88" y="802.9"/><rect x="116.92" y="814.7"/><rect x="144.32" y="814.7"/><rect x="155.28" y="814.7"/><rect x="160.76" y="814.7"/><rect x="171.72" y="814.7"/><rect x="237.48" y="814.7"/><rect x="248.44" y="814.7"/><rect x="253.92" y="814.7"/><rect x="259.40" y="814.7"/><rect x="275.84" y="814.7"/><rect x="281.32" y="814.7"/><rect x="319.68" y="814.7"/><rect x="358.04" y="814.7"/><rect x="363.52" y="814.7"/><rect x="379.96" y="814.7"/><rect x="396.40" y="814.7"/><rect x="412.84" y="814.7"/><rect x="434.76" y="814.7"/><rect x="451.20" y="814.7"/><rect x="462.16" y="814.7"/><rect x="511.48" y="814.7"/><rect x="516.96" y="814.7"/><rect x="522.44" y="814.7"/><rect x="571.76" y="814.7"/><rect x="588.20" y="814.7"/><rect x="593.68" y="814.7"/><rect x="637.52" y="814.7"/><rect x="648.48" y="814.7"/><rect x="659.44" y="814.7"/><rect x="664.92" y="814.7"/><rect x="686.84" y="814.7"/><rect x="697.80" y="814.7"/><rect x="741.64" y="814.7"/><rect x="763.56" y="814.7"/><rect x="785.48" y="814.7"/><rect x="807.40" y="814.7"/><rect x="818.36" y="814.7"/><rect x="840.28" y="814.7"/><rect x="856.72" y="814.7"/><rect x="878.64" y="814.7"/><rect x="895.08" y="814.7"/><rect x="900.56" y="814.7"/><rect x="906.04" y="814.7"/><rect x="917.00" y="814.7"/><rect x="927.96" y="814.7"/><rect x="960.84" y="814.7"/><rect x="971.80" y="814.7"/><rect x="1021.12" y="814.7"/><rect x="1037.56" y="814.7"/><rect x="1064.96" y="814.7"/><rect x="1075.92" y="814.7"/><rect x="1081.40" y="814.7"/><rect x="1152.64" y="814.7"/><rect x="1169.08" y="814.7"/><rect x="1174.56" y="814.7"/><rect x="1180.04" y="814.7"/><rect x="1191.00" y="814.7"/><rect x="1218.40" y="814.7"/><rect x="1245.80" y="814.7"/><rect x="1251.28" y="814.7"/><rect x="1273.20" y="814.7"/><rect x="1289.64" y="814.7"/><rect x="736.16" y="826.6"/><rect x="741.64" y="826.6"/><rect x="790.96" y="826.6"/><rect x="796.44" y="826.6"/><rect x="1097.84" y="826.6"/><rect x="1103.32" y="826.6"/><rect x="1174.56" y="826.6"/><rect x="1180.04" y="826.6"/><rect x="1245.80" y="826.6"/><rect x="1251.28" y="826.6"/></g><g fill="#7fd2fa"><rect x="138.84" y="755.5"/><rect x="149.80" y="755.5"/><rect x="199.12" y="755.5"/><rect x="297.76" y="755.5"/><rect x="308.72" y="755.5"/><rect x="341.60" y="755.5"/><rect x="363.52" y="755.5"/><rect x="401.88" y="755.5"/><rect x="412.84" y="755.5"/><rect x="489.56" y="755.5"/><rect x="527.92" y="755.5"/><rect x="544.36" y="755.5"/><rect x="604.64" y="755.5"/><rect x="637.52" y="755.5"/><rect x="664.92" y="755.5"/><rect x="736.16" y="755.5"/><rect x="752.60" y="755.5"/><rect x="763.56" y="755.5"/><rect x="769.04" y="755.5"/><rect x="829.32" y="755.5"/><rect x="878.64" y="755.5"/><rect x="960.84" y="755.5"/><rect x="1048.52" y="755.5"/><rect x="1064.96" y="755.5"/><rect x="1158.12" y="755.5"/><rect x="1196.48" y="755.5"/></g><g fill="#84d5fb"><rect x="144.32" y="755.5"/><rect x="155.28" y="755.5"/><rect x="160.76" y="755.5"/><rect x="177.20" y="755.5"/><rect x="182.68" y="755.5"/><rect x="226.52" y="755.5"/><rect x="281.32" y="755.5"/><rect x="286.80" y="755.5"/><rect x="369.00" y="755.5"/><rect x="379.96" y="755.5"/><rect x="407.36" y="755.5"/><rect x="423.80" y="755.5"/><rect x="462.16" y="755.5"/><rect x="522.44" y="755.5"/><rect x="566.28" y="755.5"/><rect x="571.76" y="755.5"/><rect x="615.60" y="755.5"/><rect x="621.08" y="755.5"/><rect x="632.04" y="755.5"/><rect x="659.44" y="755.5"/><rect x="796.44" y="755.5"/><rect x="801.92" y="755.5"/><rect x="856.72" y="755.5"/><rect x="955.36" y="755.5"/><rect x="993.72" y="755.5"/><rect x="1086.88" y="755.5"/><rect x="1103.32" y="755.5"/><rect x="1108.80" y="755.5"/><rect x="1119.76" y="755.5"/><rect x="1125.24" y="755.5"/><rect x="1152.64" y="755.5"/><rect x="1191.00" y="755.5"/></g><g fill="#6ccbf8"><rect x="1289.64" y="719.9"/><rect x="1284.16" y="743.6"/><rect x="1273.20" y="755.5"/><rect x="1278.68" y="755.5"/><rect x="1284.16" y="755.5"/><rect x="1317.04" y="755.5"/><rect x="1322.52" y="755.5"/><rect x="1328.00" y="755.5"/><rect x="1338.96" y="755.5"/><rect x="1360.88" y="755.5"/><rect x="188.16" y="791.0"/><rect x="193.64" y="791.0"/><rect x="210.08" y="791.0"/><rect x="221.04" y="791.0"/><rect x="232.00" y="791.0"/><rect x="242.96" y="791.0"/><rect x="248.44" y="791.0"/><rect x="325.16" y="791.0"/><rect x="341.60" y="791.0"/><rect x="363.52" y="791.0"/><rect x="374.48" y="791.0"/><rect x="385.44" y="791.0"/><rect x="396.40" y="791.0"/><rect x="500.52" y="791.0"/><rect x="522.44" y="791.0"/><rect x="549.84" y="791.0"/><rect x="560.80" y="791.0"/><rect x="637.52" y="791.0"/><rect x="653.96" y="791.0"/><rect x="675.88" y="791.0"/><rect x="692.32" y="791.0"/><rect x="708.76" y="791.0"/><rect x="719.72" y="791.0"/><rect x="741.64" y="791.0"/><rect x="758.08" y="791.0"/><rect x="801.92" y="791.0"/><rect x="818.36" y="791.0"/><rect x="829.32" y="791.0"/><rect x="840.28" y="791.0"/><rect x="856.72" y="791.0"/><rect x="867.68" y="791.0"/><rect x="895.08" y="791.0"/><rect x="906.04" y="791.0"/><rect x="949.88" y="791.0"/><rect x="977.28" y="791.0"/><rect x="1021.12" y="791.0"/><rect x="1026.60" y="791.0"/><rect x="1037.56" y="791.0"/><rect x="1070.44" y="791.0"/><rect x="1081.40" y="791.0"/><rect x="1086.88" y="791.0"/><rect x="1097.84" y="791.0"/><rect x="1108.80" y="791.0"/><rect x="1125.24" y="791.0"/><rect x="1180.04" y="791.0"/><rect x="1201.96" y="791.0"/><rect x="1240.32" y="791.0"/><rect x="1267.72" y="791.0"/><rect x="1322.52" y="791.0"/><rect x="1333.48" y="791.0"/><rect x="138.84" y="814.7"/><rect x="177.20" y="814.7"/><rect x="188.16" y="814.7"/><rect x="199.12" y="814.7"/><rect x="204.60" y="814.7"/><rect x="210.08" y="814.7"/><rect x="232.00" y="814.7"/><rect x="270.36" y="814.7"/><rect x="286.80" y="814.7"/><rect x="303.24" y="814.7"/><rect x="314.20" y="814.7"/><rect x="325.16" y="814.7"/><rect x="347.08" y="814.7"/><rect x="369.00" y="814.7"/><rect x="429.28" y="814.7"/><rect x="440.24" y="814.7"/><rect x="467.64" y="814.7"/><rect x="495.04" y="814.7"/><rect x="500.52" y="814.7"/><rect x="506.00" y="814.7"/><rect x="527.92" y="814.7"/><rect x="544.36" y="814.7"/><rect x="566.28" y="814.7"/><rect x="610.12" y="814.7"/><rect x="643.00" y="814.7"/><rect x="675.88" y="814.7"/><rect x="681.36" y="814.7"/><rect x="703.28" y="814.7"/><rect x="730.68" y="814.7"/><rect x="736.16" y="814.7"/><rect x="758.08" y="814.7"/><rect x="780.00" y="814.7"/><rect x="812.88" y="814.7"/><rect x="829.32" y="814.7"/><rect x="873.16" y="814.7"/><rect x="988.24" y="814.7"/><rect x="993.72" y="814.7"/><rect x="1015.64" y="814.7"/><rect x="1048.52" y="814.7"/><rect x="1059.48" y="814.7"/><rect x="1086.88" y="814.7"/><rect x="1092.36" y="814.7"/><rect x="1114.28" y="814.7"/><rect x="1136.20" y="814.7"/><rect x="1163.60" y="814.7"/><rect x="1185.52" y="814.7"/><rect x="1295.12" y="814.7"/></g><g fill="#4fc3f7"><rect x="1295.12" y="719.9"/><rect x="1300.60" y="719.9"/><rect x="1289.64" y="755.5"/><rect x="1311.56" y="755.5"/><rect x="1333.48" y="755.5"/><rect x="1344.44" y="755.5"/><rect x="1349.92" y="755.5"/><rect x="1289.64" y="767.3"/></g><g fill="#5cc6f8"><rect x="1295.12" y="755.5"/><rect x="1300.60" y="755.5"/></g><g fill="#58c5f8"><rect x="1306.08" y="755.5"/><rect x="1355.40" y="755.5"/></g><g fill="#27b3f5"><rect x="116.92" y="767.3"/><rect x="171.72" y="767.3"/><rect x="199.12" y="767.3"/><rect x="204.60" y="767.3"/><rect x="221.04" y="767.3"/><rect x="242.96" y="767.3"/><rect x="248.44" y="767.3"/><rect x="259.40" y="767.3"/><rect x="270.36" y="767.3"/><rect x="275.84" y="767.3"/><rect x="281.32" y="767.3"/><rect x="303.24" y="767.3"/><rect x="325.16" y="767.3"/><rect x="330.64" y="767.3"/><rect x="341.60" y="767.3"/><rect x="363.52" y="767.3"/><rect x="374.48" y="767.3"/><rect x="385.44" y="767.3"/><rect x="401.88" y="767.3"/><rect x="412.84" y="767.3"/><rect x="423.80" y="767.3"/><rect x="429.28" y="767.3"/><rect x="462.16" y="767.3"/><rect x="527.92" y="767.3"/><rect x="555.32" y="767.3"/><rect x="632.04" y="767.3"/><rect x="653.96" y="767.3"/><rect x="664.92" y="767.3"/><rect x="670.40" y="767.3"/><rect x="686.84" y="767.3"/><rect x="714.24" y="767.3"/><rect x="719.72" y="767.3"/><rect x="730.68" y="767.3"/><rect x="741.64" y="767.3"/><rect x="752.60" y="767.3"/><rect x="763.56" y="767.3"/><rect x="769.04" y="767.3"/><rect x="774.52" y="767.3"/><rect x="807.40" y="767.3"/><rect x="889.60" y="767.3"/><rect x="927.96" y="767.3"/><rect x="949.88" y="767.3"/><rect x="960.84" y="767.3"/><rect x="999.20" y="767.3"/><rect x="1004.68" y="767.3"/><rect x="1010.16" y="767.3"/><rect x="1015.64" y="767.3"/><rect x="1075.92" y="767.3"/><rect x="1130.72" y="767.3"/><rect x="1152.64" y="767.3"/><rect x="1218.40" y="767.3"/><rect x="1234.84" y="767.3"/><rect x="1262.24" y="767.3"/><rect x="1267.72" y="767.3"/><rect x="1278.68" y="767.3"/><rect x="1284.16" y="767.3"/></g><g fill="#33b9f7"><rect x="1355.40" y="719.9"/><rect x="122.40" y="767.3"/><rect x="133.36" y="767.3"/><rect x="155.28" y="767.3"/><rect x="188.16" y="767.3"/><rect x="210.08" y="767.3"/><rect x="215.56" y="767.3"/><rect x="237.48" y="767.3"/><rect x="297.76" y="767.3"/><rect x="347.08" y="767.3"/><rect x="358.04" y="767.3"/><rect x="390.92" y="767.3"/><rect x="418.32" y="767.3"/><rect x="440.24" y="767.3"/><rect x="467.64" y="767.3"/><rect x="473.12" y="767.3"/><rect x="478.60" y="767.3"/><rect x="495.04" y="767.3"/><rect x="500.52" y="767.3"/><rect x="516.96" y="767.3"/><rect x="522.44" y="767.3"/><rect x="549.84" y="767.3"/><rect x="637.52" y="767.3"/><rect x="648.48" y="767.3"/><rect x="692.32" y="767.3"/><rect x="703.28" y="767.3"/><rect x="708.76" y="767.3"/><rect x="867.68" y="767.3"/><rect x="878.64" y="767.3"/><rect x="884.12" y="767.3"/><rect x="906.04" y="767.3"/><rect x="977.28" y="767.3"/><rect x="1021.12" y="767.3"/><rect x="1092.36" y="767.3"/><rect x="1114.28" y="767.3"/><rect x="1119.76" y="767.3"/><rect x="1125.24" y="767.3"/><rect x="1141.68" y="767.3"/><rect x="1185.52" y="767.3"/><rect x="1191.00" y="767.3"/><rect x="1207.44" y="767.3"/><rect x="1256.76" y="767.3"/></g><g fill="#2db7f6"><rect x="127.88" y="767.3"/><rect x="177.20" y="767.3"/><rect x="253.92" y="767.3"/><rect x="286.80" y="767.3"/><rect x="292.28" y="767.3"/><rect x="314.20" y="767.3"/><rect x="336.12" y="767.3"/><rect x="484.08" y="767.3"/><rect x="511.48" y="767.3"/><rect x="533.40" y="767.3"/><rect x="566.28" y="767.3"/><rect x="610.12" y="767.3"/><rect x="615.60" y="767.3"/><rect x="621.08" y="767.3"/><rect x="675.88" y="767.3"/><rect x="790.96" y="767.3"/><rect x="801.92" y="767.3"/><rect x="812.88" y="767.3"/><rect x="862.20" y="767.3"/><rect x="933.44" y="767.3"/><rect x="938.92" y="767.3"/><rect x="955.36" y="767.3"/><rect x="1064.96" y="767.3"/><rect x="1108.80" y="767.3"/><rect x="1136.20" y="767.3"/><rect x="1158.12" y="767.3"/><rect x="1196.48" y="767.3"/><rect x="1201.96" y="767.3"/><rect x="1245.80" y="767.3"/></g><g fill="#29b6f6"><rect x="1311.56" y="719.9"/><rect x="1322.52" y="719.9"/><rect x="1338.96" y="719.9"/><rect x="1344.44" y="719.9"/><rect x="1289.64" y="731.8"/><rect x="1295.12" y="743.6"/><rect x="1300.60" y="743.6"/><rect x="1311.56" y="743.6"/><rect x="1349.92" y="743.6"/><rect x="138.84" y="767.3"/><rect x="144.32" y="767.3"/><rect x="149.80" y="767.3"/><rect x="160.76" y="767.3"/><rect x="166.24" y="767.3"/><rect x="182.68" y="767.3"/><rect x="193.64" y="767.3"/><rect x="226.52" y="767.3"/><rect x="232.00" y="767.3"/><rect x="264.88" y="767.3"/><rect x="308.72" y="767.3"/><rect x="319.68" y="767.3"/><rect x="352.56" y="767.3"/><rect x="369.00" y="767.3"/><rect x="379.96" y="767.3"/><rect x="396.40" y="767.3"/><rect x="407.36" y="767.3"/><rect x="434.76" y="767.3"/><rect x="445.72" y="767.3"/><rect x="451.20" y="767.3"/><rect x="456.68" y="767.3"/><rect x="489.56" y="767.3"/><rect x="506.00" y="767.3"/><rect x="538.88" y="767.3"/><rect x="544.36" y="767.3"/><rect x="560.80" y="767.3"/><rect x="571.76" y="767.3"/><rect x="577.24" y="767.3"/><rect x="582.72" y="767.3"/><rect x="588.20" y="767.3"/><rect x="593.68" y="767.3"/><rect x="599.16" y="767.3"/><rect x="604.64" y="767.3"/><rect x="626.56" y="767.3"/><rect x="643.00" y="767.3"/><rect x="659.44" y="767.3"/><rect x="681.36" y="767.3"/><rect x="697.80" y="767.3"/><rect x="725.20" y="767.3"/><rect x="736.16" y="767.3"/><rect x="747.12" y="767.3"/><rect x="758.08" y="767.3"/><rect x="780.00" y="767.3"/><rect x="785.48" y="767.3"/><rect x="796.44" y="767.3"/><rect x="818.36" y="767.3"/><rect x="823.84" y="767.3"/><rect x="829.32" y="767.3"/><rect x="834.80" y="767.3"/><rect x="840.28" y="767.3"/><rect x="845.76" y="767.3"/><rect x="851.24" y="767.3"/><rect x="856.72" y="767.3"/><rect x="873.16" y="767.3"/><rect x="895.08" y="767.3"/><rect x="900.56" y="767.3"/><rect x="911.52" y="767.3"/><rect x="917.00" y="767.3"/><rect x="922.48" y="767.3"/><rect x="944.40" y="767.3"/><rect x="966.32" y="767.3"/><rect x="971.80" y="767.3"/><rect x="982.76" y="767.3"/><rect x="988.24" y="767.3"/><rect x="993.72" y="767.3"/><rect x="1026.60" y="767.3"/><rect x="1032.08" y="767.3"/><rect x="1037.56" y="767.3"/><rect x="1043.04" y="767.3"/><rect x="1048.52" y="767.3"/><rect x="1054.00" y="767.3"/><rect x="1059.48" y="767.3"/><rect x="1070.44" y="767.3"/><rect x="1081.40" y="767.3"/><rect x="1086.88" y="767.3"/><rect x="1097.84" y="767.3"/><rect x="1103.32" y="767.3"/><rect x="1147.16" y="767.3"/><rect x="1163.60" y="767.3"/><rect x="1169.08" y="767.3"/><rect x="1174.56" y="767.3"/><rect x="1180.04" y="767.3"/><rect x="1212.92" y="767.3"/><rect x="1223.88" y="767.3"/><rect x="1229.36" y="767.3"/><rect x="1240.32" y="767.3"/><rect x="1251.28" y="767.3"/><rect x="1273.20" y="767.3"/><rect x="1289.64" y="802.9"/></g><g fill="#7bd1fa"><rect x="1295.12" y="767.3"/><rect x="1300.60" y="767.3"/><rect x="1306.08" y="767.3"/><rect x="1322.52" y="767.3"/><rect x="1333.48" y="767.3"/><rect x="1338.96" y="767.3"/><rect x="1344.44" y="767.3"/><rect x="1355.40" y="767.3"/><rect x="1300.60" y="802.9"/><rect x="1306.08" y="802.9"/><rect x="1311.56" y="802.9"/><rect x="1333.48" y="802.9"/><rect x="1355.40" y="802.9"/></g><g fill="#7ccff9"><rect x="116.92" y="779.2"/><rect x="166.24" y="779.2"/><rect x="188.16" y="779.2"/><rect x="199.12" y="779.2"/><rect x="221.04" y="779.2"/><rect x="253.92" y="779.2"/><rect x="281.32" y="779.2"/><rect x="358.04" y="779.2"/><rect x="374.48" y="779.2"/><rect x="467.64" y="779.2"/><rect x="478.60" y="779.2"/><rect x="527.92" y="779.2"/><rect x="549.84" y="779.2"/><rect x="571.76" y="779.2"/><rect x="577.24" y="779.2"/><rect x="610.12" y="779.2"/><rect x="626.56" y="779.2"/><rect x="648.48" y="779.2"/><rect x="681.36" y="779.2"/><rect x="692.32" y="779.2"/><rect x="697.80" y="779.2"/><rect x="736.16" y="779.2"/><rect x="747.12" y="779.2"/><rect x="752.60" y="779.2"/><rect x="758.08" y="779.2"/><rect x="763.56" y="779.2"/><rect x="818.36" y="779.2"/><rect x="840.28" y="779.2"/><rect x="845.76" y="779.2"/><rect x="873.16" y="779.2"/><rect x="895.08" y="779.2"/><rect x="917.00" y="779.2"/><rect x="944.40" y="779.2"/><rect x="955.36" y="779.2"/><rect x="971.80" y="779.2"/><rect x="1054.00" y="779.2"/><rect x="1086.88" y="779.2"/><rect x="1092.36" y="779.2"/><rect x="1158.12" y="779.2"/><rect x="1169.08" y="779.2"/><rect x="1212.92" y="779.2"/><rect x="1229.36" y="779.2"/><rect x="1234.84" y="779.2"/><rect x="1240.32" y="779.2"/><rect x="1267.72" y="779.2"/><rect x="1278.68" y="779.2"/><rect x="1355.40" y="779.2"/></g><g fill="#86d6fb"><rect x="127.88" y="779.2"/><rect x="133.36" y="779.2"/><rect x="155.28" y="779.2"/><rect x="171.72" y="779.2"/><rect x="177.20" y="779.2"/><rect x="182.68" y="779.2"/><rect x="259.40" y="779.2"/><rect x="303.24" y="779.2"/><rect x="308.72" y="779.2"/><rect x="314.20" y="779.2"/><rect x="319.68" y="779.2"/><rect x="407.36" y="779.2"/><rect x="418.32" y="779.2"/><rect x="423.80" y="779.2"/><rect x="429.28" y="779.2"/><rect x="440.24" y="779.2"/><rect x="445.72" y="779.2"/><rect x="451.20" y="779.2"/><rect x="500.52" y="779.2"/><rect x="516.96" y="779.2"/><rect x="544.36" y="779.2"/><rect x="621.08" y="779.2"/><rect x="637.52" y="779.2"/><rect x="664.92" y="779.2"/><rect x="675.88" y="779.2"/><rect x="686.84" y="779.2"/><rect x="714.24" y="779.2"/><rect x="719.72" y="779.2"/><rect x="725.20" y="779.2"/><rect x="730.68" y="779.2"/><rect x="741.64" y="779.2"/><rect x="785.48" y="779.2"/><rect x="790.96" y="779.2"/><rect x="851.24" y="779.2"/><rect x="867.68" y="779.2"/><rect x="878.64" y="779.2"/><rect x="884.12" y="779.2"/><rect x="933.44" y="779.2"/><rect x="949.88" y="779.2"/><rect x="960.84" y="779.2"/><rect x="966.32" y="779.2"/><rect x="982.76" y="779.2"/><rect x="999.20" y="779.2"/><rect x="1032.08" y="779.2"/><rect x="1048.52" y="779.2"/><rect x="1064.96" y="779.2"/><rect x="1075.92" y="779.2"/><rect x="1081.40" y="779.2"/><rect x="1097.84" y="779.2"/><rect x="1103.32" y="779.2"/><rect x="1108.80" y="779.2"/><rect x="1119.76" y="779.2"/><rect x="1130.72" y="779.2"/><rect x="1141.68" y="779.2"/><rect x="1152.64" y="779.2"/><rect x="1180.04" y="779.2"/><rect x="1185.52" y="779.2"/><rect x="1196.48" y="779.2"/><rect x="1218.40" y="779.2"/><rect x="1256.76" y="779.2"/><rect x="1284.16" y="779.2"/><rect x="1306.08" y="779.2"/><rect x="1317.04" y="779.2"/><rect x="1328.00" y="779.2"/><rect x="1338.96" y="779.2"/></g><g fill="#78cef9"><rect x="138.84" y="779.2"/><rect x="193.64" y="779.2"/><rect x="210.08" y="779.2"/><rect x="215.56" y="779.2"/><rect x="232.00" y="779.2"/><rect x="264.88" y="779.2"/><rect x="270.36" y="779.2"/><rect x="286.80" y="779.2"/><rect x="325.16" y="779.2"/><rect x="336.12" y="779.2"/><rect x="352.56" y="779.2"/><rect x="363.52" y="779.2"/><rect x="369.00" y="779.2"/><rect x="379.96" y="779.2"/><rect x="390.92" y="779.2"/><rect x="396.40" y="779.2"/><rect x="401.88" y="779.2"/><rect x="412.84" y="779.2"/><rect x="434.76" y="779.2"/><rect x="484.08" y="779.2"/><rect x="489.56" y="779.2"/><rect x="506.00" y="779.2"/><rect x="533.40" y="779.2"/><rect x="538.88" y="779.2"/><rect x="566.28" y="779.2"/><rect x="593.68" y="779.2"/><rect x="599.16" y="779.2"/><rect x="643.00" y="779.2"/><rect x="653.96" y="779.2"/><rect x="659.44" y="779.2"/><rect x="670.40" y="779.2"/><rect x="703.28" y="779.2"/><rect x="796.44" y="779.2"/><rect x="856.72" y="779.2"/><rect x="862.20" y="779.2"/><rect x="889.60" y="779.2"/><rect x="911.52" y="779.2"/><rect x="922.48" y="779.2"/><rect x="927.96" y="779.2"/><rect x="938.92" y="779.2"/><rect x="977.28" y="779.2"/><rect x="993.72" y="779.2"/><rect x="1015.64" y="779.2"/><rect x="1021.12" y="779.2"/><rect x="1026.60" y="779.2"/><rect x="1070.44" y="779.2"/><rect x="1125.24" y="779.2"/><rect x="1136.20" y="779.2"/><rect x="1147.16" y="779.2"/><rect x="1163.60" y="779.2"/><rect x="1201.96" y="779.2"/><rect x="1207.44" y="779.2"/><rect x="1223.88" y="779.2"/><rect x="1251.28" y="779.2"/><rect x="1295.12" y="779.2"/></g><g fill="#74cdf9"><rect x="1322.52" y="708.1"/><rect x="1338.96" y="708.1"/><rect x="1355.40" y="708.1"/><rect x="116.92" y="791.0"/><rect x="133.36" y="791.0"/><rect x="144.32" y="791.0"/><rect x="149.80" y="791.0"/><rect x="177.20" y="791.0"/><rect x="182.68" y="791.0"/><rect x="199.12" y="791.0"/><rect x="215.56" y="791.0"/><rect x="226.52" y="791.0"/><rect x="253.92" y="791.0"/><rect x="259.40" y="791.0"/><rect x="281.32" y="791.0"/><rect x="303.24" y="791.0"/><rect x="308.72" y="791.0"/><rect x="330.64" y="791.0"/><rect x="369.00" y="791.0"/><rect x="379.96" y="791.0"/><rect x="429.28" y="791.0"/><rect x="440.24" y="791.0"/><rect x="456.68" y="791.0"/><rect x="473.12" y="791.0"/><rect x="484.08" y="791.0"/><rect x="489.56" y="791.0"/><rect x="506.00" y="791.0"/><rect x="516.96" y="791.0"/><rect x="538.88" y="791.0"/><rect x="566.28" y="791.0"/><rect x="577.24" y="791.0"/><rect x="588.20" y="791.0"/><rect x="599.16" y="791.0"/><rect x="697.80" y="791.0"/><rect x="703.28" y="791.0"/><rect x="730.68" y="791.0"/><rect x="747.12" y="791.0"/><rect x="763.56" y="791.0"/><rect x="769.04" y="791.0"/><rect x="796.44" y="791.0"/><rect x="812.88" y="791.0"/><rect x="845.76" y="791.0"/><rect x="851.24" y="791.0"/><rect x="862.20" y="791.0"/><rect x="873.16" y="791.0"/><rect x="878.64" y="791.0"/><rect x="900.56" y="791.0"/><rect x="927.96" y="791.0"/><rect x="944.40" y="791.0"/><rect x="971.80" y="791.0"/><rect x="999.20" y="791.0"/><rect x="1010.16" y="791.0"/><rect x="1015.64" y="791.0"/><rect x="1064.96" y="791.0"/><rect x="1075.92" y="791.0"/><rect x="1114.28" y="791.0"/><rect x="1119.76" y="791.0"/><rect x="1136.20" y="791.0"/><rect x="1158.12" y="791.0"/><rect x="1163.60" y="791.0"/><rect x="1174.56" y="791.0"/><rect x="1185.52" y="791.0"/><rect x="1234.84" y="791.0"/><rect x="1245.80" y="791.0"/></g><g fill="#70ccf8"><rect x="122.40" y="791.0"/><rect x="127.88" y="791.0"/><rect x="171.72" y="791.0"/><rect x="264.88" y="791.0"/><rect x="270.36" y="791.0"/><rect x="275.84" y="791.0"/><rect x="286.80" y="791.0"/><rect x="297.76" y="791.0"/><rect x="352.56" y="791.0"/><rect x="358.04" y="791.0"/><rect x="401.88" y="791.0"/><rect x="407.36" y="791.0"/><rect x="418.32" y="791.0"/><rect x="423.80" y="791.0"/><rect x="434.76" y="791.0"/><rect x="445.72" y="791.0"/><rect x="462.16" y="791.0"/><rect x="511.48" y="791.0"/><rect x="527.92" y="791.0"/><rect x="533.40" y="791.0"/><rect x="555.32" y="791.0"/><rect x="582.72" y="791.0"/><rect x="593.68" y="791.0"/><rect x="604.64" y="791.0"/><rect x="615.60" y="791.0"/><rect x="626.56" y="791.0"/><rect x="643.00" y="791.0"/><rect x="648.48" y="791.0"/><rect x="659.44" y="791.0"/><rect x="664.92" y="791.0"/><rect x="670.40" y="791.0"/><rect x="725.20" y="791.0"/><rect x="736.16" y="791.0"/><rect x="752.60" y="791.0"/><rect x="774.52" y="791.0"/><rect x="834.80" y="791.0"/><rect x="884.12" y="791.0"/><rect x="911.52" y="791.0"/><rect x="917.00" y="791.0"/><rect x="960.84" y="791.0"/><rect x="966.32" y="791.0"/><rect x="1032.08" y="791.0"/><rect x="1043.04" y="791.0"/><rect x="1048.52" y="791.0"/><rect x="1054.00" y="791.0"/><rect x="1059.48" y="791.0"/><rect x="1092.36" y="791.0"/><rect x="1103.32" y="791.0"/><rect x="1141.68" y="791.0"/><rect x="1147.16" y="791.0"/><rect x="1152.64" y="791.0"/><rect x="1196.48" y="791.0"/><rect x="1218.40" y="791.0"/><rect x="1251.28" y="791.0"/><rect x="1273.20" y="791.0"/><rect x="1289.64" y="791.0"/><rect x="1300.60" y="791.0"/><rect x="1306.08" y="791.0"/><rect x="1317.04" y="791.0"/><rect x="1328.00" y="791.0"/><rect x="1338.96" y="791.0"/><rect x="122.40" y="814.7"/><rect x="127.88" y="814.7"/><rect x="133.36" y="814.7"/><rect x="149.80" y="814.7"/><rect x="166.24" y="814.7"/><rect x="215.56" y="814.7"/><rect x="221.04" y="814.7"/><rect x="242.96" y="814.7"/><rect x="264.88" y="814.7"/><rect x="330.64" y="814.7"/><rect x="336.12" y="814.7"/><rect x="352.56" y="814.7"/><rect x="390.92" y="814.7"/><rect x="401.88" y="814.7"/><rect x="423.80" y="814.7"/><rect x="456.68" y="814.7"/><rect x="489.56" y="814.7"/><rect x="533.40" y="814.7"/><rect x="549.84" y="814.7"/><rect x="555.32" y="814.7"/><rect x="582.72" y="814.7"/><rect x="615.60" y="814.7"/><rect x="632.04" y="814.7"/><rect x="714.24" y="814.7"/><rect x="747.12" y="814.7"/><rect x="752.60" y="814.7"/><rect x="790.96" y="814.7"/><rect x="796.44" y="814.7"/><rect x="801.92" y="814.7"/><rect x="834.80" y="814.7"/><rect x="889.60" y="814.7"/><rect x="938.92" y="814.7"/><rect x="999.20" y="814.7"/><rect x="1004.68" y="814.7"/><rect x="1010.16" y="814.7"/><rect x="1026.60" y="814.7"/><rect x="1043.04" y="814.7"/><rect x="1054.00" y="814.7"/><rect x="1070.44" y="814.7"/><rect x="1097.84" y="814.7"/><rect x="1125.24" y="814.7"/><rect x="1130.72" y="814.7"/><rect x="1141.68" y="814.7"/><rect x="1196.48" y="814.7"/><rect x="1223.88" y="814.7"/><rect x="1229.36" y="814.7"/><rect x="1256.76" y="814.7"/><rect x="1284.16" y="814.7"/><rect x="1300.60" y="814.7"/><rect x="1306.08" y="814.7"/><rect x="1311.56" y="814.7"/></g><g fill="#6ac9f8"><rect x="138.84" y="791.0"/><rect x="155.28" y="791.0"/><rect x="160.76" y="791.0"/><rect x="166.24" y="791.0"/><rect x="204.60" y="791.0"/><rect x="237.48" y="791.0"/><rect x="292.28" y="791.0"/><rect x="314.20" y="791.0"/><rect x="319.68" y="791.0"/><rect x="336.12" y="791.0"/><rect x="347.08" y="791.0"/><rect x="390.92" y="791.0"/><rect x="412.84" y="791.0"/><rect x="451.20" y="791.0"/><rect x="467.64" y="791.0"/><rect x="478.60" y="791.0"/><rect x="495.04" y="791.0"/><rect x="544.36" y="791.0"/><rect x="571.76" y="791.0"/><rect x="610.12" y="791.0"/><rect x="621.08" y="791.0"/><rect x="632.04" y="791.0"/><rect x="681.36" y="791.0"/><rect x="686.84" y="791.0"/><rect x="714.24" y="791.0"/><rect x="780.00" y="791.0"/><rect x="785.48" y="791.0"/><rect x="790.96" y="791.0"/><rect x="807.40" y="791.0"/><rect x="823.84" y="791.0"/><rect x="889.60" y="791.0"/><rect x="922.48" y="791.0"/><rect x="933.44" y="791.0"/><rect x="938.92" y="791.0"/><rect x="955.36" y="791.0"/><rect x="982.76" y="791.0"/><rect x="988.24" y="791.0"/><rect x="993.72" y="791.0"/><rect x="1004.68" y="791.0"/><rect x="1130.72" y="791.0"/><rect x="1169.08" y="791.0"/><rect x="1191.00" y="791.0"/><rect x="1207.44" y="791.0"/><rect x="1212.92" y="791.0"/><rect x="1223.88" y="791.0"/><rect x="1229.36" y="791.0"/><rect x="1256.76" y="791.0"/><rect x="1262.24" y="791.0"/><rect x="1278.68" y="791.0"/><rect x="1284.16" y="791.0"/><rect x="1295.12" y="791.0"/></g><g fill="#026aa8"><rect x="116.92" y="802.9"/><rect x="144.32" y="802.9"/><rect x="149.80" y="802.9"/><rect x="160.76" y="802.9"/><rect x="166.24" y="802.9"/><rect x="193.64" y="802.9"/><rect x="199.12" y="802.9"/><rect x="237.48" y="802.9"/><rect x="242.96" y="802.9"/><rect x="253.92" y="802.9"/><rect x="264.88" y="802.9"/><rect x="281.32" y="802.9"/><rect x="292.28" y="802.9"/><rect x="297.76" y="802.9"/><rect x="308.72" y="802.9"/><rect x="314.20" y="802.9"/><rect x="319.68" y="802.9"/><rect x="358.04" y="802.9"/><rect x="369.00" y="802.9"/><rect x="374.48" y="802.9"/><rect x="418.32" y="802.9"/><rect x="423.80" y="802.9"/><rect x="445.72" y="802.9"/><rect x="478.60" y="802.9"/><rect x="484.08" y="802.9"/><rect x="495.04" y="802.9"/><rect x="500.52" y="802.9"/><rect x="506.00" y="802.9"/><rect x="516.96" y="802.9"/><rect x="549.84" y="802.9"/><rect x="582.72" y="802.9"/><rect x="615.60" y="802.9"/><rect x="670.40" y="802.9"/><rect x="703.28" y="802.9"/><rect x="714.24" y="802.9"/><rect x="752.60" y="802.9"/><rect x="758.08" y="802.9"/><rect x="774.52" y="802.9"/><rect x="790.96" y="802.9"/><rect x="834.80" y="802.9"/><rect x="845.76" y="802.9"/><rect x="862.20" y="802.9"/><rect x="884.12" y="802.9"/><rect x="906.04" y="802.9"/><rect x="911.52" y="802.9"/><rect x="960.84" y="802.9"/><rect x="993.72" y="802.9"/><rect x="999.20" y="802.9"/><rect x="1010.16" y="802.9"/><rect x="1021.12" y="802.9"/><rect x="1026.60" y="802.9"/><rect x="1059.48" y="802.9"/><rect x="1064.96" y="802.9"/><rect x="1081.40" y="802.9"/><rect x="1092.36" y="802.9"/><rect x="1108.80" y="802.9"/><rect x="1114.28" y="802.9"/><rect x="1119.76" y="802.9"/><rect x="1130.72" y="802.9"/><rect x="1141.68" y="802.9"/><rect x="1147.16" y="802.9"/><rect x="1152.64" y="802.9"/><rect x="1169.08" y="802.9"/><rect x="1174.56" y="802.9"/><rect x="1180.04" y="802.9"/><rect x="1196.48" y="802.9"/><rect x="1218.40" y="802.9"/><rect x="1234.84" y="802.9"/><rect x="1240.32" y="802.9"/><rect x="1262.24" y="802.9"/><rect x="1273.20" y="802.9"/><rect x="1278.68" y="802.9"/></g><g fill="#015f98"><rect x="122.40" y="802.9"/><rect x="133.36" y="802.9"/><rect x="171.72" y="802.9"/><rect x="182.68" y="802.9"/><rect x="341.60" y="802.9"/><rect x="352.56" y="802.9"/><rect x="390.92" y="802.9"/><rect x="429.28" y="802.9"/><rect x="434.76" y="802.9"/><rect x="456.68" y="802.9"/><rect x="473.12" y="802.9"/><rect x="555.32" y="802.9"/><rect x="560.80" y="802.9"/><rect x="577.24" y="802.9"/><rect x="588.20" y="802.9"/><rect x="610.12" y="802.9"/><rect x="621.08" y="802.9"/><rect x="626.56" y="802.9"/><rect x="637.52" y="802.9"/><rect x="643.00" y="802.9"/><rect x="686.84" y="802.9"/><rect x="692.32" y="802.9"/><rect x="730.68" y="802.9"/><rect x="741.64" y="802.9"/><rect x="785.48" y="802.9"/><rect x="801.92" y="802.9"/><rect x="812.88" y="802.9"/><rect x="856.72" y="802.9"/><rect x="895.08" y="802.9"/><rect x="927.96" y="802.9"/><rect x="982.76" y="802.9"/><rect x="1037.56" y="802.9"/><rect x="1043.04" y="802.9"/><rect x="1054.00" y="802.9"/><rect x="1103.32" y="802.9"/><rect x="1125.24" y="802.9"/><rect x="1136.20" y="802.9"/><rect x="1185.52" y="802.9"/><rect x="1284.16" y="802.9"/></g><g fill="#0270b2"><rect x="127.88" y="802.9"/><rect x="204.60" y="802.9"/><rect x="210.08" y="802.9"/><rect x="215.56" y="802.9"/><rect x="221.04" y="802.9"/><rect x="232.00" y="802.9"/><rect x="259.40" y="802.9"/><rect x="303.24" y="802.9"/><rect x="325.16" y="802.9"/><rect x="330.64" y="802.9"/><rect x="396.40" y="802.9"/><rect x="401.88" y="802.9"/><rect x="451.20" y="802.9"/><rect x="467.64" y="802.9"/><rect x="489.56" y="802.9"/><rect x="511.48" y="802.9"/><rect x="566.28" y="802.9"/><rect x="593.68" y="802.9"/><rect x="604.64" y="802.9"/><rect x="653.96" y="802.9"/><rect x="664.92" y="802.9"/><rect x="675.88" y="802.9"/><rect x="681.36" y="802.9"/><rect x="725.20" y="802.9"/><rect x="747.12" y="802.9"/><rect x="763.56" y="802.9"/><rect x="796.44" y="802.9"/><rect x="829.32" y="802.9"/><rect x="840.28" y="802.9"/><rect x="889.60" y="802.9"/><rect x="900.56" y="802.9"/><rect x="933.44" y="802.9"/><rect x="955.36" y="802.9"/><rect x="971.80" y="802.9"/><rect x="977.28" y="802.9"/><rect x="1048.52" y="802.9"/><rect x="1075.92" y="802.9"/><rect x="1212.92" y="802.9"/><rect x="1223.88" y="802.9"/></g><g fill="#02649f"><rect x="138.84" y="802.9"/><rect x="188.16" y="802.9"/><rect x="248.44" y="802.9"/><rect x="286.80" y="802.9"/><rect x="363.52" y="802.9"/><rect x="379.96" y="802.9"/><rect x="385.44" y="802.9"/><rect x="407.36" y="802.9"/><rect x="527.92" y="802.9"/><rect x="538.88" y="802.9"/><rect x="544.36" y="802.9"/><rect x="599.16" y="802.9"/><rect x="632.04" y="802.9"/><rect x="719.72" y="802.9"/><rect x="736.16" y="802.9"/><rect x="818.36" y="802.9"/><rect x="851.24" y="802.9"/><rect x="873.16" y="802.9"/><rect x="878.64" y="802.9"/><rect x="917.00" y="802.9"/><rect x="922.48" y="802.9"/><rect x="1004.68" y="802.9"/><rect x="1070.44" y="802.9"/><rect x="1158.12" y="802.9"/><rect x="1201.96" y="802.9"/><rect x="1207.44" y="802.9"/><rect x="1229.36" y="802.9"/><rect x="1251.28" y="802.9"/><rect x="1267.72" y="802.9"/></g><g fill="#0277bd"><rect x="155.28" y="802.9"/><rect x="177.20" y="802.9"/><rect x="226.52" y="802.9"/><rect x="270.36" y="802.9"/><rect x="275.84" y="802.9"/><rect x="336.12" y="802.9"/><rect x="347.08" y="802.9"/><rect x="412.84" y="802.9"/><rect x="440.24" y="802.9"/><rect x="462.16" y="802.9"/><rect x="522.44" y="802.9"/><rect x="533.40" y="802.9"/><rect x="571.76" y="802.9"/><rect x="648.48" y="802.9"/><rect x="659.44" y="802.9"/><rect x="697.80" y="802.9"/><rect x="708.76" y="802.9"/><rect x="769.04" y="802.9"/><rect x="780.00" y="802.9"/><rect x="807.40" y="802.9"/><rect x="823.84" y="802.9"/><rect x="867.68" y="802.9"/><rect x="938.92" y="802.9"/><rect x="944.40" y="802.9"/><rect x="949.88" y="802.9"/><rect x="966.32" y="802.9"/><rect x="988.24" y="802.9"/><rect x="1015.64" y="802.9"/><rect x="1032.08" y="802.9"/><rect x="1086.88" y="802.9"/><rect x="1097.84" y="802.9"/><rect x="1163.60" y="802.9"/><rect x="1191.00" y="802.9"/><rect x="1245.80" y="802.9"/><rect x="1256.76" y="802.9"/></g><g fill="#77cff9"><rect x="182.68" y="814.7"/><rect x="193.64" y="814.7"/><rect x="226.52" y="814.7"/><rect x="292.28" y="814.7"/><rect x="297.76" y="814.7"/><rect x="308.72" y="814.7"/><rect x="341.60" y="814.7"/><rect x="374.48" y="814.7"/><rect x="385.44" y="814.7"/><rect x="407.36" y="814.7"/><rect x="418.32" y="814.7"/><rect x="445.72" y="814.7"/><rect x="473.12" y="814.7"/><rect x="478.60" y="814.7"/><rect x="484.08" y="814.7"/><rect x="538.88" y="814.7"/><rect x="560.80" y="814.7"/><rect x="577.24" y="814.7"/><rect x="599.16" y="814.7"/><rect x="604.64" y="814.7"/><rect x="621.08" y="814.7"/><rect x="626.56" y="814.7"/><rect x="653.96" y="814.7"/><rect x="670.40" y="814.7"/><rect x="692.32" y="814.7"/><rect x="708.76" y="814.7"/><rect x="719.72" y="814.7"/><rect x="725.20" y="814.7"/><rect x="769.04" y="814.7"/><rect x="774.52" y="814.7"/><rect x="823.84" y="814.7"/><rect x="845.76" y="814.7"/><rect x="851.24" y="814.7"/><rect x="862.20" y="814.7"/><rect x="867.68" y="814.7"/><rect x="884.12" y="814.7"/><rect x="911.52" y="814.7"/><rect x="922.48" y="814.7"/><rect x="933.44" y="814.7"/><rect x="944.40" y="814.7"/><rect x="949.88" y="814.7"/><rect x="955.36" y="814.7"/><rect x="966.32" y="814.7"/><rect x="977.28" y="814.7"/><rect x="982.76" y="814.7"/><rect x="1032.08" y="814.7"/><rect x="1103.32" y="814.7"/><rect x="1108.80" y="814.7"/><rect x="1119.76" y="814.7"/><rect x="1147.16" y="814.7"/><rect x="1158.12" y="814.7"/><rect x="1201.96" y="814.7"/><rect x="1207.44" y="814.7"/><rect x="1212.92" y="814.7"/><rect x="1234.84" y="814.7"/><rect x="1240.32" y="814.7"/><rect x="1262.24" y="814.7"/><rect x="1267.72" y="814.7"/><rect x="1278.68" y="814.7"/></g><g fill="#6fcbf8"><rect x="1289.64" y="708.1"/><rect x="1295.12" y="708.1"/><rect x="1300.60" y="708.1"/><rect x="1317.04" y="708.1"/><rect x="1333.48" y="708.1"/><rect x="1344.44" y="708.1"/><rect x="1349.92" y="708.1"/><rect x="1360.88" y="708.1"/></g><g fill="#42bff7"><rect x="1306.08" y="719.9"/></g><g fill="#3bbcf7"><rect x="1317.04" y="719.9"/><rect x="1349.92" y="719.9"/></g><g fill="#03a9f4"><rect x="1328.00" y="719.9"/><rect x="1360.88" y="719.9"/><rect x="1338.96" y="731.8"/></g><g fill="#35baf7"><rect x="1333.48" y="719.9"/></g><g fill="#0385cc"><rect x="1295.12" y="731.8"/><rect x="1306.08" y="731.8"/></g><g fill="#0a8ad3"><rect x="1300.60" y="731.8"/></g><g fill="#0288d1"><rect x="1311.56" y="731.8"/><rect x="1322.52" y="731.8"/></g><g fill="#078bd2"><rect x="1317.04" y="731.8"/><rect x="1328.00" y="731.8"/></g><g fill="#12aaf2"><rect x="1333.48" y="731.8"/><rect x="1344.44" y="731.8"/></g><g fill="#0a96e0"><rect x="1349.92" y="731.8"/></g><g fill="#0283c8"><rect x="1355.40" y="731.8"/></g><g fill="#0e93d9"><rect x="1360.88" y="731.8"/></g><g fill="#45c0f7"><rect x="1289.64" y="743.6"/><rect x="1306.08" y="743.6"/><rect x="1328.00" y="743.6"/><rect x="1338.96" y="743.6"/></g><g fill="#3fbef7"><rect x="1317.04" y="743.6"/><rect x="1322.52" y="743.6"/><rect x="1333.48" y="743.6"/><rect x="1344.44" y="743.6"/><rect x="1355.40" y="743.6"/></g><g fill="#3bbcf8"><rect x="1360.88" y="743.6"/></g></g><line x1="117" y1="754.8" x2="1370.5" y2="754.8" stroke="#2c2c2c" stroke-width="1.2" stroke-dasharray="2.6,1.7"/><rect x="117" y="683.3" width="1.6" height="1.6" fill="#f5d90a"/><g transform="translate(1373.6,748.2) scale(0.57)"><path fill="#555" d="M3.05,13H1V11H3.05C3.5,6.83 6.83,3.5 11,3.05V1H13V3.05C17.17,3.5 20.5,6.83 20.95,11H23V13H20.95C20.5,17.17 17.17,20.5 13,20.95V23H11V20.95C6.83,20.5 3.5,17.17 3.05,13M12,5A7,7 0 0,0 5,12A7,7 0 0,0 12,19A7,7 0 0,0 19,12A7,7 0 0,0 12,5Z"/></g></svg><div class="a" style="left:269.8px;top:918.5px;font-size:12.2px;line-height:14px;color:#222">Requests to the <i>order-service</i> app, per second</div>
<div class="a" style="left:1003.5px;top:918.5px;font-size:12.2px;line-height:14px;color:#222">Errors, per second</div>
<svg class="a" style="left:0;top:930px" width="1400" height="130" viewBox="0 930 1400 130"><g stroke="#e8e8e8" stroke-width="1"><line x1="108.3" y1="942.6" x2="707.2" y2="942.6"/><line x1="108.3" y1="959.7" x2="707.2" y2="959.7"/><line x1="108.3" y1="976.8" x2="707.2" y2="976.8"/><line x1="108.3" y1="993.9" x2="707.2" y2="993.9"/><line x1="108.3" y1="1011.0" x2="707.2" y2="1011.0"/><line x1="108.3" y1="1028.1" x2="707.2" y2="1028.1"/><line x1="117.2" y1="942.6" x2="117.2" y2="1036"/><line x1="220.5" y1="942.6" x2="220.5" y2="1036"/><line x1="323.9" y1="942.6" x2="323.9" y2="1036"/><line x1="427.2" y1="942.6" x2="427.2" y2="1036"/><line x1="530.5" y1="942.6" x2="530.5" y2="1036"/><line x1="633.9" y1="942.6" x2="633.9" y2="1036"/><line x1="766" y1="942.3" x2="1366" y2="942.3"/><line x1="766" y1="959.4" x2="1366" y2="959.4"/><line x1="766" y1="976.5" x2="1366" y2="976.5"/><line x1="766" y1="993.5" x2="1366" y2="993.5"/><line x1="766" y1="1010.6" x2="1366" y2="1010.6"/><line x1="766" y1="1027.7" x2="1366" y2="1027.7"/><line x1="775.9" y1="942.3" x2="775.9" y2="1036"/><line x1="879.3" y1="942.3" x2="879.3" y2="1036"/><line x1="982.8" y1="942.3" x2="982.8" y2="1036"/><line x1="1086.2" y1="942.3" x2="1086.2" y2="1036"/><line x1="1189.7" y1="942.3" x2="1189.7" y2="1036"/><line x1="1293.1" y1="942.3" x2="1293.1" y2="1036"/></g><path fill="#86cb89" d="M117.2,1028.1 L117.2,959.3 L120.5,959.7 L123.7,959.7 L127.0,959.6 L130.2,959.0 L133.5,959.1 L136.8,959.6 L140.0,959.6 L143.3,959.9 L146.5,959.6 L149.8,959.5 L153.1,959.3 L156.3,959.5 L159.6,959.9 L162.8,959.8 L166.1,959.8 L169.4,959.6 L172.6,959.9 L175.9,959.9 L179.1,959.9 L182.4,960.1 L185.7,960.1 L188.9,960.2 L192.2,960.2 L195.4,960.2 L198.7,960.1 L202.0,959.8 L205.2,959.3 L208.5,959.6 L211.8,959.7 L215.0,960.0 L218.3,959.8 L221.5,959.8 L224.8,959.4 L228.1,959.5 L231.3,959.8 L234.6,959.9 L237.8,960.0 L241.1,959.7 L244.4,959.8 L247.6,959.4 L250.9,959.4 L254.1,959.4 L257.4,959.7 L260.7,959.7 L263.9,959.9 L267.2,959.7 L270.4,959.7 L273.7,959.8 L277.0,960.0 L280.2,960.1 L283.5,959.8 L286.7,959.8 L290.0,959.6 L293.3,959.7 L296.5,959.7 L299.8,959.8 L303.0,960.1 L306.3,960.0 L309.6,960.1 L312.8,960.0 L316.1,959.6 L319.3,959.6 L322.6,959.6 L325.9,959.6 L329.1,959.9 L332.4,959.7 L335.6,960.1 L338.9,960.0 L342.2,959.9 L345.4,959.5 L348.7,959.5 L351.9,960.0 L355.2,959.8 L358.5,959.6 L361.7,959.2 L365.0,959.6 L368.2,959.7 L371.5,959.9 L374.8,959.9 L378.0,960.0 L381.3,959.9 L384.5,959.8 L387.8,959.8 L391.1,960.0 L394.3,959.8 L397.6,959.6 L400.9,959.3 L404.1,959.5 L407.4,959.4 L410.6,959.5 L413.9,959.4 L417.2,959.6 L420.4,959.5 L423.7,959.6 L426.9,959.8 L430.2,960.2 L433.5,960.3 L436.7,960.4 L440.0,959.9 L443.2,959.7 L446.5,959.4 L449.8,959.8 L453.0,959.8 L456.3,959.8 L459.5,959.4 L462.8,959.5 L466.1,959.7 L469.3,960.0 L472.6,960.1 L475.8,960.3 L479.1,960.1 L482.4,960.0 L485.6,959.6 L488.9,959.7 L492.1,959.8 L495.4,960.1 L498.7,960.1 L501.9,960.1 L505.2,960.1 L508.4,960.0 L511.7,960.1 L515.0,959.7 L518.2,959.8 L521.5,959.3 L524.7,959.4 L528.0,959.3 L531.3,959.5 L534.5,959.4 L537.8,959.7 L541.0,959.6 L544.3,959.9 L547.6,959.6 L550.8,959.6 L554.1,959.7 L557.3,959.9 L560.6,960.3 L563.9,960.3 L567.1,960.3 L570.4,960.1 L573.6,959.7 L576.9,959.6 L580.2,959.6 L583.4,959.9 L586.7,959.9 L590.0,959.7 L593.2,959.6 L596.5,959.6 L599.7,959.9 L603.0,959.9 L606.3,959.5 L609.5,959.3 L612.8,959.4 L616.0,959.4 L619.3,959.7 L622.6,960.0 L625.8,960.1 L629.1,959.8 L632.3,959.8 L635.6,960.0 L638.9,959.7 L642.1,959.4 L645.4,959.5 L648.6,960.0 L651.9,960.2 L655.2,959.9 L658.4,959.7 L661.7,959.2 L664.9,959.7 L668.2,959.7 L671.0,968.0 L673.0,1028.1 Z"/><path fill="#77c47a" d="M117.2,1028.1 L117.2,962.0 L120.5,963.3 L123.7,962.9 L127.0,962.8 L130.2,961.8 L133.5,961.4 L136.8,961.2 L140.0,961.7 L143.3,963.0 L146.5,965.3 L149.8,964.4 L153.1,963.2 L156.3,962.3 L159.6,962.7 L162.8,963.3 L166.1,962.6 L169.4,964.1 L172.6,963.9 L175.9,964.4 L179.1,962.9 L182.4,964.0 L185.7,963.9 L188.9,963.5 L192.2,962.9 L195.4,962.6 L198.7,964.8 L202.0,966.2 L205.2,967.1 L208.5,965.2 L211.8,965.1 L215.0,964.3 L218.3,964.4 L221.5,964.9 L224.8,965.5 L228.1,966.7 L231.3,966.7 L234.6,967.7 L237.8,967.4 L241.1,967.1 L244.4,966.9 L247.6,967.7 L250.9,966.9 L254.1,966.3 L257.4,964.6 L260.7,964.2 L263.9,964.7 L267.2,963.8 L270.4,965.6 L273.7,965.1 L277.0,966.9 L280.2,965.7 L283.5,966.6 L286.7,964.9 L290.0,965.0 L293.3,965.3 L296.5,965.9 L299.8,966.7 L303.0,965.2 L306.3,966.0 L309.6,964.6 L312.8,963.4 L316.1,961.9 L319.3,962.4 L322.6,962.9 L325.9,963.4 L329.1,963.5 L332.4,965.5 L335.6,965.7 L338.9,965.1 L342.2,962.7 L345.4,961.6 L348.7,961.4 L351.9,963.2 L355.2,963.4 L358.5,965.2 L361.7,966.0 L365.0,966.9 L368.2,965.1 L371.5,965.0 L374.8,964.8 L378.0,964.0 L381.3,963.3 L384.5,963.9 L387.8,965.9 L391.1,966.1 L394.3,964.5 L397.6,964.1 L400.9,962.1 L404.1,962.3 L407.4,961.6 L410.6,963.7 L413.9,963.5 L417.2,963.8 L420.4,963.3 L423.7,965.3 L426.9,963.8 L430.2,963.6 L433.5,963.7 L436.7,965.2 L440.0,966.3 L443.2,965.3 L446.5,965.4 L449.8,964.9 L453.0,964.4 L456.3,963.3 L459.5,964.1 L462.8,964.9 L466.1,966.5 L469.3,963.8 L472.6,963.0 L475.8,963.1 L479.1,965.1 L482.4,967.0 L485.6,964.8 L488.9,964.7 L492.1,963.3 L495.4,964.9 L498.7,963.8 L501.9,963.8 L505.2,963.0 L508.4,964.6 L511.7,964.1 L515.0,965.4 L518.2,964.2 L521.5,965.5 L524.7,965.5 L528.0,965.5 L531.3,965.1 L534.5,964.9 L537.8,964.3 L541.0,963.9 L544.3,964.9 L547.6,966.3 L550.8,966.7 L554.1,964.1 L557.3,962.2 L560.6,962.0 L563.9,964.6 L567.1,965.0 L570.4,965.3 L573.6,963.7 L576.9,963.9 L580.2,963.3 L583.4,963.5 L586.7,962.9 L590.0,963.7 L593.2,963.9 L596.5,964.1 L599.7,964.7 L603.0,964.9 L606.3,965.0 L609.5,965.4 L612.8,963.8 L616.0,964.2 L619.3,963.1 L622.6,964.7 L625.8,964.5 L629.1,963.1 L632.3,963.5 L635.6,964.4 L638.9,965.5 L642.1,964.4 L645.4,964.9 L648.6,966.0 L651.9,965.8 L655.2,964.3 L658.4,964.6 L661.7,965.6 L664.9,965.6 L668.2,964.3 L671.0,972.0 L673.0,1028.1 Z"/><path fill="#66bb6a" d="M117.2,1028.1 L117.2,1005.1 L120.5,1005.2 L123.7,1003.8 L127.0,1004.2 L130.2,1003.8 L133.5,1007.3 L136.8,1007.9 L140.0,1007.1 L143.3,1006.2 L146.5,1005.0 L149.8,1008.1 L153.1,1008.3 L156.3,1011.1 L159.6,1008.9 L162.8,1008.4 L166.1,1008.4 L169.4,1010.4 L172.6,1012.2 L175.9,1008.2 L179.1,1005.8 L182.4,1007.5 L185.7,1007.4 L188.9,1009.0 L192.2,1007.9 L195.4,1010.9 L198.7,1011.4 L202.0,1010.5 L205.2,1010.0 L208.5,1008.3 L211.8,1008.5 L215.0,1006.7 L218.3,1006.6 L221.5,1006.8 L224.8,1007.3 L228.1,1005.1 L231.3,1007.4 L234.6,1007.2 L237.8,1007.5 L241.1,1004.5 L244.4,1004.9 L247.6,1004.9 L250.9,1006.9 L254.1,1009.3 L257.4,1010.4 L260.7,1012.0 L263.9,1011.9 L267.2,1009.6 L270.4,1010.1 L273.7,1008.4 L277.0,1009.6 L280.2,1007.8 L283.5,1007.9 L286.7,1007.2 L290.0,1007.4 L293.3,1008.5 L296.5,1008.9 L299.8,1009.6 L303.0,1006.9 L306.3,1009.4 L309.6,1006.6 L312.8,1007.7 L316.1,1008.1 L319.3,1007.8 L322.6,1009.3 L325.9,1006.5 L329.1,1009.3 L332.4,1010.3 L335.6,1012.9 L338.9,1009.5 L342.2,1009.5 L345.4,1007.2 L348.7,1006.0 L351.9,1003.0 L355.2,1004.7 L358.5,1007.7 L361.7,1009.4 L365.0,1007.6 L368.2,1008.6 L371.5,1008.3 L374.8,1008.1 L378.0,1004.3 L381.3,1005.9 L384.5,1006.0 L387.8,1010.1 L391.1,1008.2 L394.3,1008.8 L397.6,1007.2 L400.9,1007.3 L404.1,1005.7 L407.4,1007.2 L410.6,1006.5 L413.9,1009.0 L417.2,1011.2 L420.4,1011.0 L423.7,1012.4 L426.9,1010.7 L430.2,1006.5 L433.5,1007.6 L436.7,1009.6 L440.0,1008.9 L443.2,1007.5 L446.5,1006.8 L449.8,1009.6 L453.0,1009.6 L456.3,1008.1 L459.5,1007.1 L462.8,1008.0 L466.1,1010.6 L469.3,1008.1 L472.6,1009.3 L475.8,1007.4 L479.1,1008.3 L482.4,1008.8 L485.6,1008.2 L488.9,1007.6 L492.1,1005.8 L495.4,1005.9 L498.7,1008.1 L501.9,1009.4 L505.2,1011.0 L508.4,1008.4 L511.7,1009.2 L515.0,1008.6 L518.2,1007.0 L521.5,1004.7 L524.7,1003.6 L528.0,1005.6 L531.3,1007.2 L534.5,1008.1 L537.8,1008.0 L541.0,1007.7 L544.3,1009.9 L547.6,1010.2 L550.8,1008.8 L554.1,1007.4 L557.3,1005.5 L560.6,1004.7 L563.9,1006.7 L567.1,1009.0 L570.4,1010.7 L573.6,1010.2 L576.9,1008.0 L580.2,1006.6 L583.4,1006.8 L586.7,1006.6 L590.0,1006.8 L593.2,1006.0 L596.5,1006.2 L599.7,1006.2 L603.0,1006.7 L606.3,1006.4 L609.5,1008.9 L612.8,1008.5 L616.0,1007.7 L619.3,1006.7 L622.6,1007.7 L625.8,1006.9 L629.1,1006.5 L632.3,1005.2 L635.6,1008.3 L638.9,1008.8 L642.1,1010.7 L645.4,1008.9 L648.6,1009.2 L651.9,1006.3 L655.2,1006.2 L658.4,1004.1 L661.7,1006.2 L664.9,1006.5 L668.2,1008.0 L670.0,1012.0 L671.0,1028.1 Z"/><path fill="#4fad52" d="M117.2,1028.1 L117.2,1010.5 L120.5,1010.1 L123.7,1009.0 L127.0,1009.0 L130.2,1008.6 L133.5,1011.7 L136.8,1012.7 L140.0,1012.6 L143.3,1010.5 L146.5,1009.0 L149.8,1011.8 L153.1,1012.4 L156.3,1014.7 L159.6,1013.2 L162.8,1012.8 L166.1,1013.6 L169.4,1014.7 L172.6,1015.8 L175.9,1012.7 L179.1,1010.8 L182.4,1011.2 L185.7,1011.6 L188.9,1013.8 L192.2,1012.2 L195.4,1014.5 L198.7,1014.9 L202.0,1014.1 L205.2,1013.8 L208.5,1013.1 L211.8,1012.7 L215.0,1010.4 L218.3,1010.2 L221.5,1010.2 L224.8,1011.4 L228.1,1010.0 L231.3,1012.6 L234.6,1011.3 L237.8,1011.2 L241.1,1008.6 L244.4,1008.8 L247.6,1010.1 L250.9,1012.2 L254.1,1014.7 L257.4,1015.2 L260.7,1016.2 L263.9,1015.7 L267.2,1014.2 L270.4,1014.4 L273.7,1013.1 L277.0,1014.0 L280.2,1013.0 L283.5,1012.5 L286.7,1012.0 L290.0,1012.0 L293.3,1013.1 L296.5,1012.4 L299.8,1013.2 L303.0,1011.6 L306.3,1013.9 L309.6,1011.5 L312.8,1012.0 L316.1,1012.0 L319.3,1011.9 L322.6,1013.5 L325.9,1011.6 L329.1,1014.2 L332.4,1015.3 L335.6,1016.7 L338.9,1013.5 L342.2,1012.9 L345.4,1011.0 L348.7,1011.1 L351.9,1008.5 L355.2,1009.9 L358.5,1011.9 L361.7,1013.3 L365.0,1011.8 L368.2,1012.7 L371.5,1011.9 L374.8,1011.8 L378.0,1009.3 L381.3,1011.7 L384.5,1011.2 L387.8,1013.8 L391.1,1012.8 L394.3,1013.9 L397.6,1011.1 L400.9,1011.1 L404.1,1010.0 L407.4,1011.3 L410.6,1011.4 L413.9,1013.5 L417.2,1014.7 L420.4,1015.5 L423.7,1016.1 L426.9,1014.4 L430.2,1011.2 L433.5,1011.2 L436.7,1013.4 L440.0,1013.4 L443.2,1012.1 L446.5,1010.9 L449.8,1013.5 L453.0,1013.3 L456.3,1011.8 L459.5,1011.1 L462.8,1011.7 L466.1,1014.3 L469.3,1012.7 L472.6,1014.1 L475.8,1012.6 L479.1,1012.8 L482.4,1012.5 L485.6,1011.7 L488.9,1011.3 L492.1,1009.6 L495.4,1009.4 L498.7,1012.3 L501.9,1013.0 L505.2,1015.1 L508.4,1012.6 L511.7,1013.1 L515.0,1012.1 L518.2,1011.5 L521.5,1009.6 L524.7,1007.8 L528.0,1009.7 L531.3,1010.9 L534.5,1011.8 L537.8,1011.7 L541.0,1012.4 L544.3,1013.5 L547.6,1014.6 L550.8,1014.3 L554.1,1012.3 L557.3,1009.5 L560.6,1008.7 L563.9,1010.4 L567.1,1012.5 L570.4,1014.3 L573.6,1015.1 L576.9,1013.6 L580.2,1010.9 L583.4,1010.6 L586.7,1010.6 L590.0,1010.9 L593.2,1009.8 L596.5,1010.2 L599.7,1010.3 L603.0,1011.4 L606.3,1011.2 L609.5,1012.9 L612.8,1012.5 L616.0,1012.2 L619.3,1010.8 L622.6,1011.5 L625.8,1010.9 L629.1,1011.0 L632.3,1010.1 L635.6,1013.3 L638.9,1013.6 L642.1,1014.7 L645.4,1012.5 L648.6,1012.8 L651.9,1010.8 L655.2,1010.9 L658.4,1009.8 L661.7,1011.4 L664.9,1011.4 L668.2,1012.4 L669.0,1028.1 Z"/><path fill="none" stroke="#c9bfc6" stroke-width="0.9" d="M117.2,959.0 L120.5,959.4 L123.7,959.4 L127.0,959.3 L130.2,958.7 L133.5,958.8 L136.8,959.3 L140.0,959.3 L143.3,959.6 L146.5,959.3 L149.8,959.2 L153.1,959.0 L156.3,959.2 L159.6,959.6 L162.8,959.5 L166.1,959.5 L169.4,959.3 L172.6,959.6 L175.9,959.6 L179.1,959.6 L182.4,959.8 L185.7,959.8 L188.9,959.9 L192.2,959.9 L195.4,959.9 L198.7,959.8 L202.0,959.5 L205.2,959.0 L208.5,959.3 L211.8,959.4 L215.0,959.7 L218.3,959.5 L221.5,959.5 L224.8,959.1 L228.1,959.2 L231.3,959.5 L234.6,959.6 L237.8,959.7 L241.1,959.4 L244.4,959.5 L247.6,959.1 L250.9,959.1 L254.1,959.1 L257.4,959.4 L260.7,959.4 L263.9,959.6 L267.2,959.4 L270.4,959.4 L273.7,959.5 L277.0,959.7 L280.2,959.8 L283.5,959.5 L286.7,959.5 L290.0,959.3 L293.3,959.4 L296.5,959.4 L299.8,959.5 L303.0,959.8 L306.3,959.7 L309.6,959.8 L312.8,959.7 L316.1,959.3 L319.3,959.3 L322.6,959.3 L325.9,959.3 L329.1,959.6 L332.4,959.4 L335.6,959.8 L338.9,959.7 L342.2,959.6 L345.4,959.2 L348.7,959.2 L351.9,959.7 L355.2,959.5 L358.5,959.3 L361.7,958.9 L365.0,959.3 L368.2,959.4 L371.5,959.6 L374.8,959.6 L378.0,959.7 L381.3,959.6 L384.5,959.5 L387.8,959.5 L391.1,959.7 L394.3,959.5 L397.6,959.3 L400.9,959.0 L404.1,959.2 L407.4,959.1 L410.6,959.2 L413.9,959.1 L417.2,959.3 L420.4,959.2 L423.7,959.3 L426.9,959.5 L430.2,959.9 L433.5,960.0 L436.7,960.1 L440.0,959.6 L443.2,959.4 L446.5,959.1 L449.8,959.5 L453.0,959.5 L456.3,959.5 L459.5,959.1 L462.8,959.2 L466.1,959.4 L469.3,959.7 L472.6,959.8 L475.8,960.0 L479.1,959.8 L482.4,959.7 L485.6,959.3 L488.9,959.4 L492.1,959.5 L495.4,959.8 L498.7,959.8 L501.9,959.8 L505.2,959.8 L508.4,959.7 L511.7,959.8 L515.0,959.4 L518.2,959.5 L521.5,959.0 L524.7,959.1 L528.0,959.0 L531.3,959.2 L534.5,959.1 L537.8,959.4 L541.0,959.3 L544.3,959.6 L547.6,959.3 L550.8,959.3 L554.1,959.4 L557.3,959.6 L560.6,960.0 L563.9,960.0 L567.1,960.0 L570.4,959.8 L573.6,959.4 L576.9,959.3 L580.2,959.3 L583.4,959.6 L586.7,959.6 L590.0,959.4 L593.2,959.3 L596.5,959.3 L599.7,959.6 L603.0,959.6 L606.3,959.2 L609.5,959.0 L612.8,959.1 L616.0,959.1 L619.3,959.4 L622.6,959.7 L625.8,959.8 L629.1,959.5 L632.3,959.5 L635.6,959.7 L638.9,959.4 L642.1,959.1 L645.4,959.2 L648.6,959.7 L651.9,959.9 L655.2,959.6 L658.4,959.4 L661.7,958.9 L664.9,959.4 L668.2,959.4 L671.0,968.0"/><path fill="#45a349" d="M672.6,969.0 L673.5,963.0 L675.8,952.4 L680.0,960.0 L683.8,964.0 L686.5,962.0 L688.7,955.8 L691.0,958.8 L693.5,966.0 L696.5,973.9 L699.5,965.0 L701.9,958.8 L704.1,962.0 L704.1,1028.1 L668.2,1028.1 Z"/><path fill="#f37b72" d="M668.2,1028.1 L672.6,969.0 L675.8,967.0 L678.0,970.0 L680.0,971.5 L684.0,972.5 L686.5,968.0 L688.7,964.5 L691.0,967.0 L693.5,975.0 L696.5,982.6 L699.0,974.0 L701.5,967.5 L704.1,968.0 L704.1,1028.1 Z"/><path fill="#f4655b" d="M669.0,1028.1 L672.5,985.0 L675.0,982.0 L677.5,986.0 L679.0,990.0 L681.5,984.0 L684.0,980.0 L686.5,979.5 L688.5,978.0 L690.5,981.0 L693.0,987.0 L695.5,990.0 L697.5,986.0 L700.0,977.0 L702.0,975.5 L704.1,980.0 L704.1,1028.1 Z"/><path fill="#f33f31" d="M670.0,1028.1 L673.0,1019.0 L675.8,1015.0 L678.0,1019.0 L680.0,1020.0 L682.0,1016.0 L684.0,1012.0 L686.0,1014.0 L688.5,1008.5 L691.0,1007.5 L693.5,1007.0 L696.0,1009.0 L698.5,1013.0 L701.0,1013.0 L704.1,1010.0 L704.1,1028.1 Z"/><path fill="#ee1b0d" d="M668.5,1028.1 L672.0,1025.8 L676.0,1026.5 L680.0,1027.2 L690.0,1026.5 L694.0,1024.8 L698.0,1025.4 L704.1,1026.5 L704.1,1028.1 Z"/><g class="ax" text-anchor="end"><text x="104" y="946.3">25</text><text x="104" y="963.4">20</text><text x="104" y="980.5">15</text><text x="104" y="997.6">10</text><text x="104" y="1014.7">5</text><text x="104" y="1031.8">0</text><text x="762.7" y="946.0">100</text><text x="762.7" y="963.1">80</text><text x="762.7" y="980.2">60</text><text x="762.7" y="997.2">40</text><text x="762.7" y="1014.3">20</text><text x="762.7" y="1031.4">0</text></g><g class="ax" text-anchor="middle"><text x="117.2" y="1048.6">Apr 03</text><text x="775.9" y="1048.6">Apr 03</text><text x="220.5" y="1048.6">13:10</text><text x="879.3" y="1048.6">13:10</text><text x="323.9" y="1048.6">13:20</text><text x="982.8" y="1048.6">13:20</text><text x="427.2" y="1048.6">13:30</text><text x="1086.2" y="1048.6">13:30</text><text x="530.5" y="1048.6">13:40</text><text x="1189.7" y="1048.6">13:40</text><text x="633.9" y="1048.6">13:50</text><text x="1293.1" y="1048.6">13:50</text></g></svg>
<div class="sq" style="left:99.7px;top:1065.5px;background:#a8d8aa"></div><div class="a lg" style="left:110.2px;top:1065px">0-5 ms</div>
<div class="sq" style="left:149.6px;top:1065.5px;background:#93cf96"></div><div class="a lg" style="left:160px;top:1065px">5-10 ms</div>
<div class="sq" style="left:206.2px;top:1065.5px;background:#80c784"></div><div class="a lg" style="left:216.5px;top:1065px">10-25 ms</div>
<div class="sq" style="left:269.8px;top:1065.5px;background:#6abe6e"></div><div class="a lg" style="left:278.3px;top:1065px">25-50 ms</div>
<div class="sq" style="left:329.7px;top:1065.5px;background:#56b45a"></div><div class="a lg" style="left:340.5px;top:1065px">50-100 ms</div>
<div class="sq" style="left:397.1px;top:1065.5px;background:#45a849"></div><div class="a lg" style="left:407.5px;top:1065px">0.1-0.25 s</div>
<div class="sq" style="left:460.8px;top:1065.5px;background:#379a3b"></div><div class="a lg" style="left:471.1px;top:1065px">0.25-0.5 s</div>
<div class="sq" style="left:525.3px;top:1065.5px;background:#f28a82"></div><div class="a lg" style="left:535.3px;top:1065px">0.5-1 s</div>
<div class="sq" style="left:575.3px;top:1065.5px;background:#f26a60"></div><div class="a lg" style="left:585.7px;top:1065px">1-2.5 s</div>
<div class="sq" style="left:624.8px;top:1065.5px;background:#f0483c"></div><div class="a lg" style="left:635.2px;top:1065px">2.5-5 s</div>
<div class="sq" style="left:99.7px;top:1081px;background:#ee2415"></div><div class="a lg" style="left:110.2px;top:1080.8px">5-10 s</div>
<div class="sq" style="left:147.2px;top:1081px;background:#d51a0e"></div><div class="a lg" style="left:156.7px;top:1080.8px">&gt;10 s</div>
<div class="sq" style="left:189.7px;top:1081px;background:#000"></div><div class="a lg" style="left:200.5px;top:1080.8px">errors</div>
<div class="sq" style="left:236.8px;top:1081px;background:#c4c4c4"></div><div class="a lg" style="left:246.2px;top:1080.8px">total</div>
<div class="sq" style="left:758px;top:1065.5px;background:#000"></div><div class="a lg" style="left:768.6px;top:1065px">errors</div>
</div></body></html>
